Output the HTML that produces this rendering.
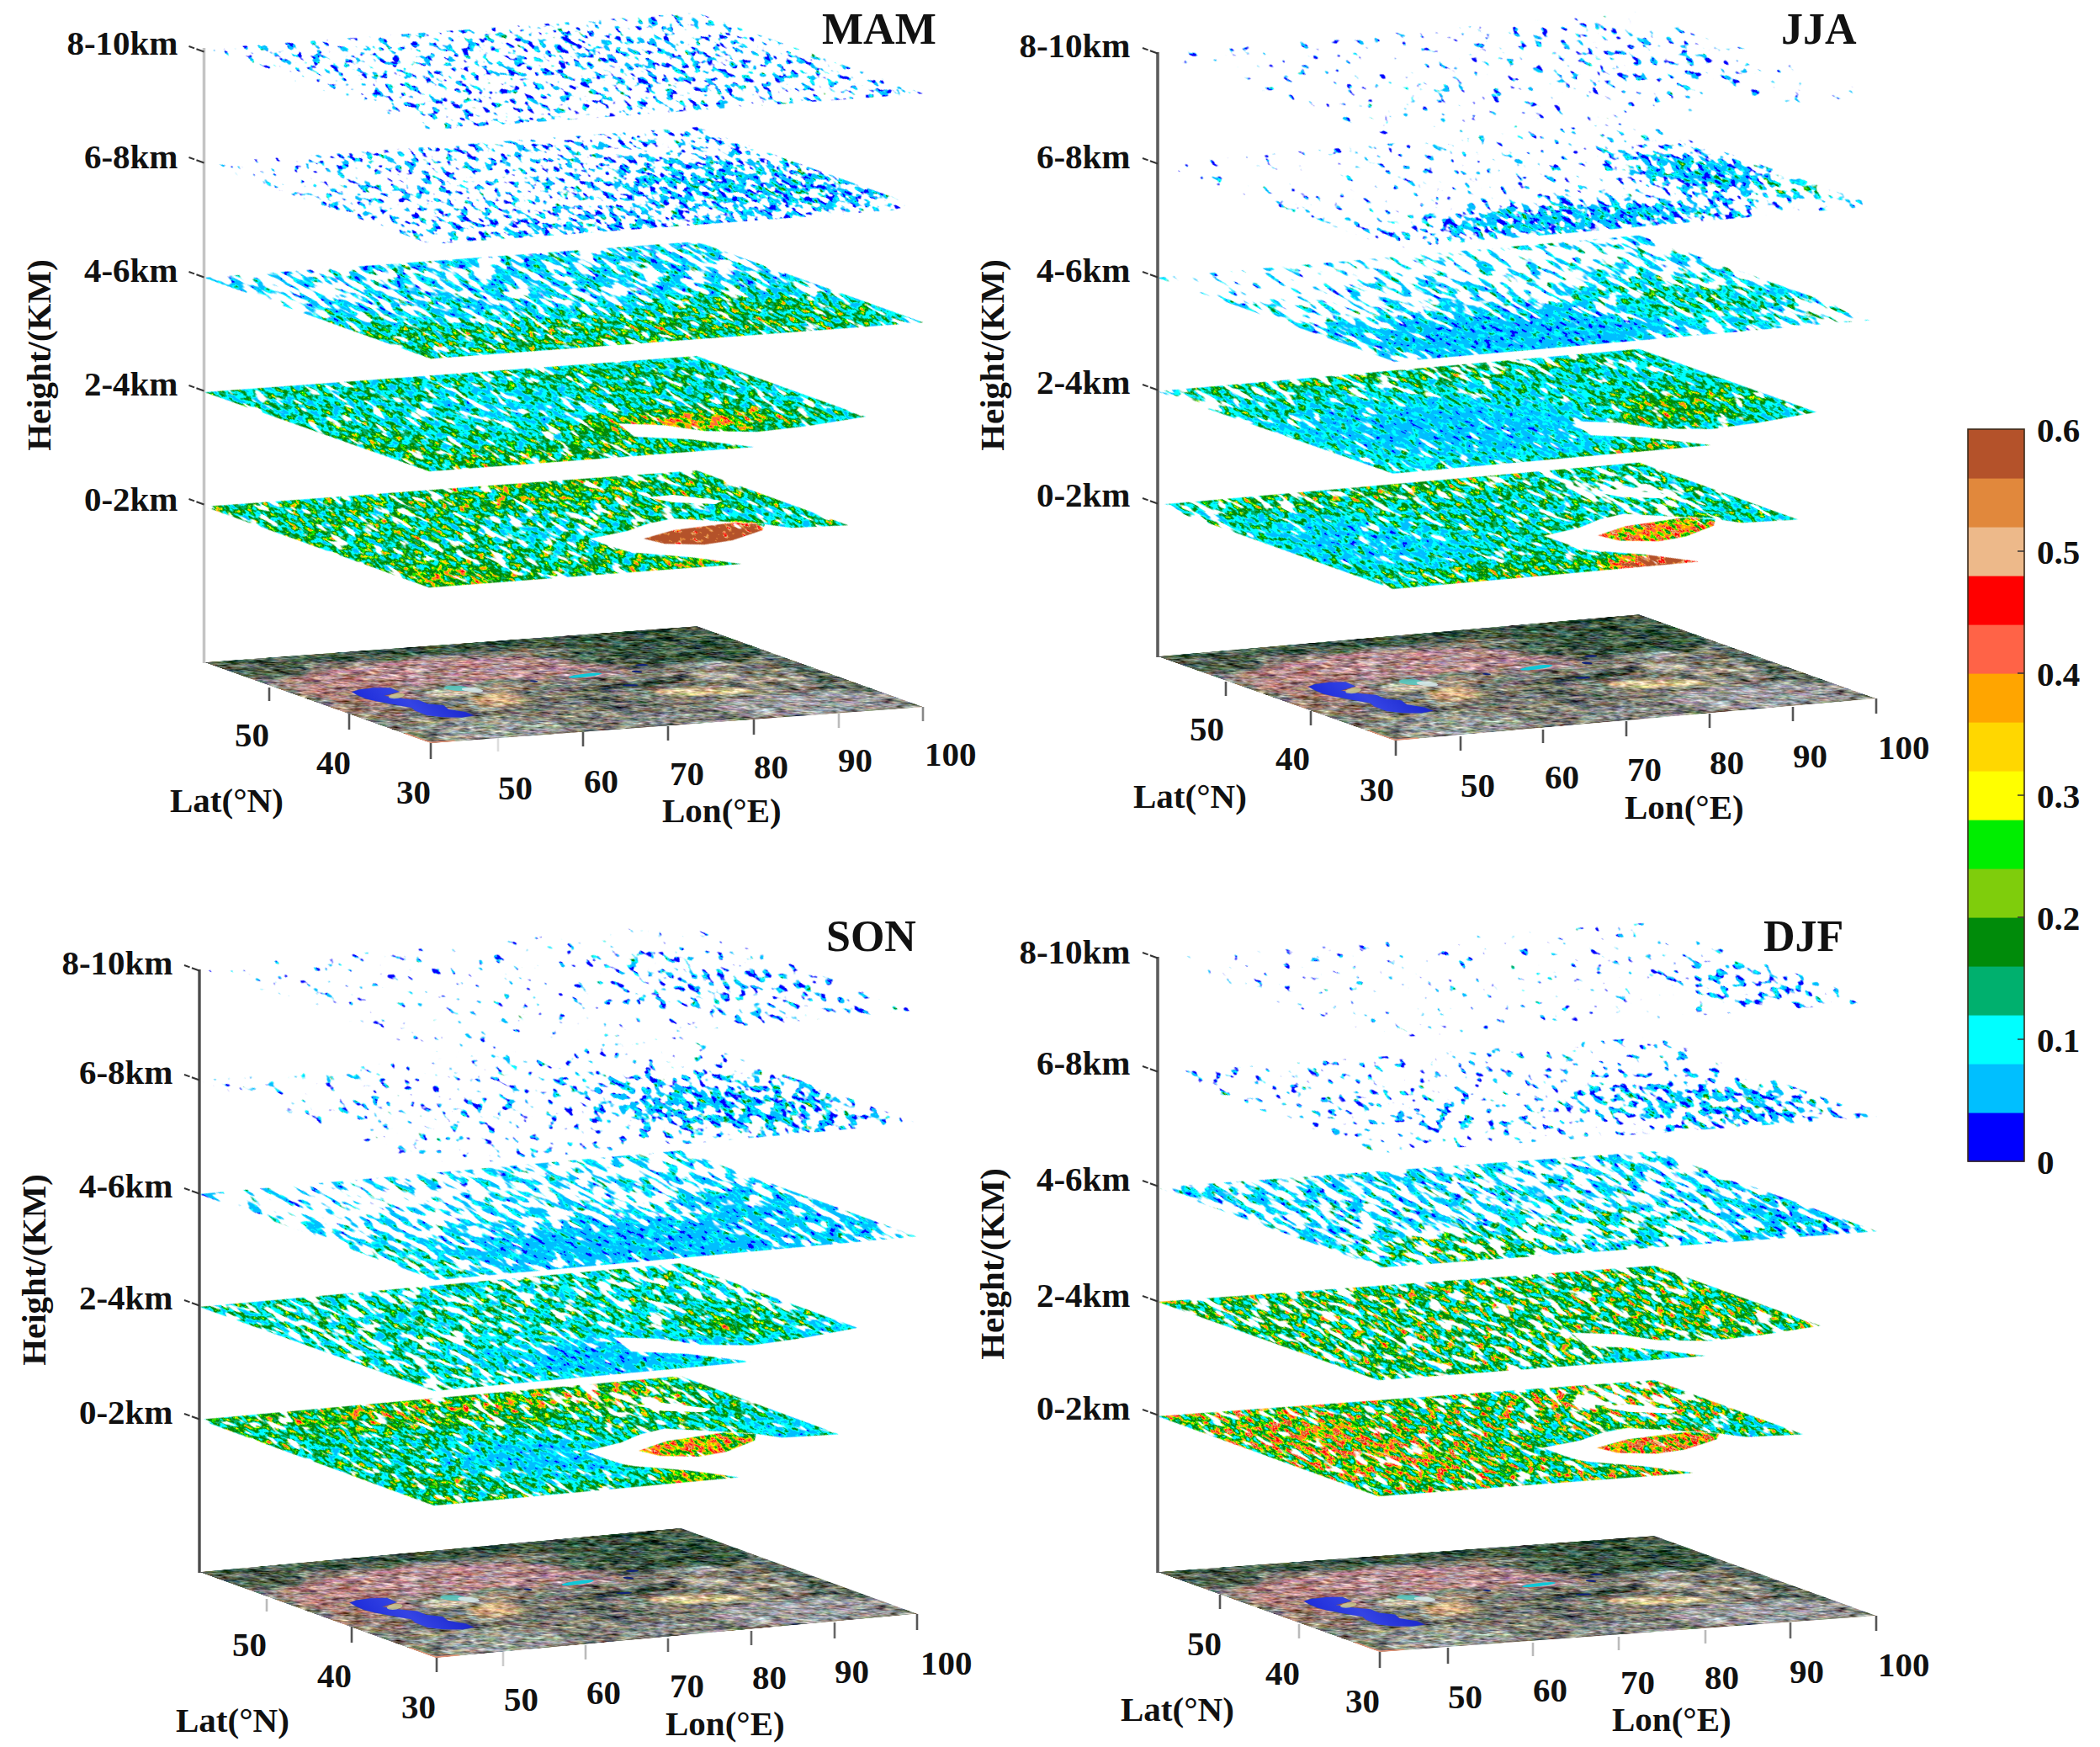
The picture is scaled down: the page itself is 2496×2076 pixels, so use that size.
<!DOCTYPE html>
<html><head><meta charset="utf-8"><title>Seasonal 3D aerosol extinction layers</title>
<style>html,body{margin:0;padding:0;background:#fff}svg{display:block}text{font-family:'Liberation Serif','DejaVu Serif',serif;font-weight:bold;fill:#111}</style></head>
<body>
<svg width="2496" height="2076" viewBox="0 0 2496 2076">
<defs>
<filter id="ff" filterUnits="userSpaceOnUse" x="-5" y="-5" width="590.0" height="290.0" color-interpolation-filters="sRGB"><feGaussianBlur in="SourceGraphic" stdDeviation="4" result="b0"/><feColorMatrix in="b0" type="matrix" values="1 0 0 0 0 0 1 0 0 0 0 0 1 0 0 0 0 0 0 1" result="S"/><feTurbulence type="fractalNoise" baseFrequency="0.13 0.2" numOctaves="3" seed="7" result="t1"/><feColorMatrix in="t1" type="matrix" values="0.46 0.32 0.22 0 0  0.27 0.46 0.27 0 0  0.22 0.32 0.46 0 0  0 0 0 0 1" result="n1"/><feComposite in="n1" in2="S" operator="arithmetic" k1="0" k2="1.3" k3="1" k4="-0.65" result="c0"/><feTurbulence type="fractalNoise" baseFrequency="0.045 0.08" numOctaves="2" seed="11" result="t2"/><feColorMatrix in="t2" type="matrix" values="0.5 0.3 0.2 0 0  0.25 0.5 0.25 0 0  0.2 0.3 0.5 0 0  0 0 0 0 1" result="n2"/><feComposite in="n2" in2="c0" operator="arithmetic" k1="0" k2="1.1" k3="1" k4="-0.55" result="c1"/><feComposite in="c1" in2="SourceAlpha" operator="in"/></filter>
<clipPath id="fclip"><rect x="0" y="0" width="580" height="280"/></clipPath>
<linearGradient id="lakeg" x1="0" y1="0" x2="1" y2="1"><stop offset="0" stop-color="#1a28d8"/><stop offset="0.5" stop-color="#3444e4"/><stop offset="1" stop-color="#1a26cc"/></linearGradient>
<g id="flr"><g filter="url(#ff)">
<rect x="0" y="0" width="580" height="280" fill="#7e7d73"/>
<g clip-path="url(#fclip)">
<ellipse cx="290" cy="-5" rx="340" ry="34" fill="rgb(62,86,68)"/>
<ellipse cx="490" cy="50" rx="100" ry="65" fill="rgb(60,88,68)"/>
<ellipse cx="380" cy="80" rx="60" ry="35" fill="rgb(70,92,72)" fill-opacity="0.8"/>
<ellipse cx="40" cy="30" rx="50" ry="35" fill="rgb(70,90,72)" fill-opacity="0.8"/>
<ellipse cx="570" cy="180" rx="30" ry="80" fill="rgb(84,100,88)" fill-opacity="0.8"/>
<ellipse cx="200" cy="75" rx="160" ry="38" fill="rgb(180,140,143)"/>
<ellipse cx="70" cy="105" rx="60" ry="50" fill="rgb(176,130,126)" fill-opacity="0.9"/>
<ellipse cx="330" cy="105" rx="70" ry="25" fill="rgb(176,136,142)" fill-opacity="0.8"/>
<ellipse cx="30" cy="170" rx="30" ry="50" fill="rgb(156,122,112)" fill-opacity="0.8"/>
<ellipse cx="183" cy="170" rx="36" ry="17" fill="rgb(212,176,132)" fill-opacity="0.92" transform="rotate(-20 183 170)"/>
<ellipse cx="150" cy="142" rx="26" ry="13" fill="rgb(205,196,178)" fill-opacity="0.85"/>
<ellipse cx="220" cy="135" rx="30" ry="11" fill="rgb(190,172,140)" fill-opacity="0.65"/>
<ellipse cx="410" cy="190" rx="54" ry="14.5" fill="rgb(216,196,150)" fill-opacity="0.95" transform="rotate(8 410 190)"/>
<ellipse cx="460" cy="145" rx="32" ry="8" fill="rgb(216,208,194)" fill-opacity="0.8" transform="rotate(5 460 145)"/>
<ellipse cx="480" cy="110" rx="40" ry="9" fill="rgb(190,190,188)" fill-opacity="0.7" transform="rotate(5 480 110)"/>
<ellipse cx="510" cy="170" rx="35" ry="13" fill="rgb(186,170,146)" fill-opacity="0.65"/>
<ellipse cx="360" cy="154" rx="80" ry="9" fill="rgb(58,74,62)" fill-opacity="0.9" transform="rotate(-6 360 154)"/>
<ellipse cx="290" cy="200" rx="40" ry="25" fill="rgb(96,104,100)" fill-opacity="0.7"/>
<ellipse cx="450" cy="90" rx="40" ry="14" fill="rgb(58,82,64)" fill-opacity="0.85"/>
<ellipse cx="480" cy="245" rx="110" ry="34" fill="rgb(160,160,164)" fill-opacity="0.85"/>
<ellipse cx="300" cy="260" rx="70" ry="22" fill="rgb(136,140,140)" fill-opacity="0.7"/>
<ellipse cx="100" cy="250" rx="90" ry="30" fill="rgb(158,164,158)" fill-opacity="0.8"/>
<ellipse cx="20" cy="220" rx="30" ry="40" fill="rgb(126,132,122)" fill-opacity="0.6"/>
</g></g>
<polygon points="59,129 63,116 76,111 95,109 112,112 110,126 94,131 84,134 92,144 106,154 105,166 116,174 110,186 119,198 118,210 100,213 82,208 72,200 73,184 78,174 68,160 61,148 58,139" fill="url(#lakeg)" stroke="#3a4a8a" stroke-width="1" stroke-opacity="0.5"/>
<ellipse cx="96" cy="137" rx="14" ry="5" fill="#c8c890" fill-opacity="0.85" transform="rotate(-25 96 137)"/>
<ellipse cx="176" cy="128" rx="13" ry="9" fill="#58c8c0" fill-opacity="0.9"/>
<ellipse cx="186" cy="136" rx="10" ry="8" fill="#d8e8e8" fill-opacity="0.9"/>
<ellipse cx="336" cy="118" rx="22" ry="4.5" fill="#10c8d8" transform="rotate(-8 336 118)"/>
<ellipse cx="353" cy="156" rx="9" ry="3" fill="#10207a"/>
<ellipse cx="397" cy="118" rx="5" ry="4" fill="#10207a"/>
<ellipse cx="420" cy="100" rx="7" ry="3" fill="#10207a"/>
<ellipse cx="270" cy="124" rx="4" ry="3" fill="#10207a"/>
<path d="M0 246V280H30V276.5H3.5V246Z" fill="#f09878" fill-opacity="0.9"/>
</g>
<filter id="f10" filterUnits="userSpaceOnUse" x="-4" y="-4" width="354.9" height="690.2" color-interpolation-filters="sRGB"><feGaussianBlur in="SourceGraphic" stdDeviation="5" result="b0"/><feColorMatrix in="b0" type="matrix" values="1 0 0 0 0 0 1 0 0 0 0 0 1 0 0 0 0 0 0 1" result="S"/><feTurbulence type="fractalNoise" baseFrequency="0.21 0.09" numOctaves="2" seed="11" result="t1"/><feColorMatrix in="t1" type="matrix" values="1 0 0 0 0 0 1 0 0 0 0 0 1 0 0 0 0 0 0 1" result="n1"/><feTurbulence type="fractalNoise" baseFrequency="0.15 0.04" numOctaves="2" seed="61" result="t2"/><feColorMatrix in="t2" type="matrix" values="1 0 0 0 0 0 1 0 0 0 0 0 1 0 0 0 0 0 0 1" result="n2"/><feComposite in="n1" in2="S" operator="arithmetic" k1="0" k2="0.9" k3="1" k4="-0.45" result="c1"/><feColorMatrix in="c1" type="matrix" values="1 0 0 0 0 1 0 0 0 0 1 0 0 0 0 0 0 0 0 1" result="v"/><feComponentTransfer in="v" result="cc"><feFuncR type="discrete" tableValues="0 0 0 0 0 0 0 0 0 0 0 0 0 0 0 0 0 0 0 0 0 0 0 0 0 0 0.498 0 0 1 1 1 1 1 1 1 1 1 1 1 0.929 0.929 0.882 0.882 0.882 0.706 0.706 0.706 0.706 0.706"/><feFuncG type="discrete" tableValues="0 0.749 0.749 0.749 0.749 0.749 0.749 0.749 0.749 0.749 0.749 0.749 1 1 1 1 1 1 0.69 0.69 0.69 0.545 0.545 0.545 0.545 0.545 0.804 0.933 0.933 1 0.843 0.647 0.647 0.647 0.388 0.388 0.388 0 0 0 0.725 0.725 0.533 0.533 0.533 0.322 0.322 0.322 0.322 0.322"/><feFuncB type="discrete" tableValues="1 1 1 1 1 1 1 1 1 1 1 1 1 1 1 1 1 1 0.431 0.431 0.431 0.039 0.039 0.039 0.039 0.039 0.047 0 0 0 0 0 0 0 0.278 0.278 0.278 0 0 0 0.541 0.541 0.235 0.235 0.235 0.165 0.165 0.165 0.165 0.165"/></feComponentTransfer><feComposite in="n2" in2="S" operator="arithmetic" k1="0" k2="1.6" k3="1" k4="-0.8" result="c2"/><feColorMatrix in="c2" type="matrix" values="0 0 0 0 0 0 0 0 0 0 0 0 0 0 0 0 9 0 0 -4" result="m"/><feComposite in="cc" in2="m" operator="in" result="cm"/><feComposite in="cm" in2="SourceAlpha" operator="in"/></filter>
<clipPath id="c10"><polygon points="0,0 317.8,493 346.9,682.2 311.7,623.9 299.4,590.8 284.4,559.1 254.4,495.7 234.7,472.3 214.9,454.6 185.4,419.4 190,448.8 193.8,466.1 198.3,478.5 223.5,535.3 245.7,592.7 43.5,280.4"/></clipPath>
<radialGradient id="g100"><stop offset="0.35" stop-color="#8acc00" stop-opacity="1"/><stop offset="1" stop-color="#8acc00" stop-opacity="0"/></radialGradient>
<radialGradient id="g101"><stop offset="0.35" stop-color="#78bf00" stop-opacity="1"/><stop offset="1" stop-color="#78bf00" stop-opacity="0"/></radialGradient>
<radialGradient id="g102"><stop offset="0.35" stop-color="#4c9900" stop-opacity="1"/><stop offset="1" stop-color="#4c9900" stop-opacity="0"/></radialGradient>
<radialGradient id="g103"><stop offset="0.35" stop-color="#85e600" stop-opacity="1"/><stop offset="1" stop-color="#85e600" stop-opacity="0"/></radialGradient>
<radialGradient id="g104"><stop offset="0.35" stop-color="#4cbf00" stop-opacity="1"/><stop offset="1" stop-color="#4cbf00" stop-opacity="0"/></radialGradient>
<radialGradient id="g105"><stop offset="0.35" stop-color="#9ee600" stop-opacity="1"/><stop offset="1" stop-color="#9ee600" stop-opacity="0"/></radialGradient>
<filter id="f11" filterUnits="userSpaceOnUse" x="-4" y="-4" width="358.8" height="712" color-interpolation-filters="sRGB"><feGaussianBlur in="SourceGraphic" stdDeviation="5" result="b0"/><feColorMatrix in="b0" type="matrix" values="1 0 0 0 0 0 1 0 0 0 0 0 1 0 0 0 0 0 0 1" result="S"/><feTurbulence type="fractalNoise" baseFrequency="0.21 0.09" numOctaves="2" seed="12" result="t1"/><feColorMatrix in="t1" type="matrix" values="1 0 0 0 0 0 1 0 0 0 0 0 1 0 0 0 0 0 0 1" result="n1"/><feTurbulence type="fractalNoise" baseFrequency="0.15 0.04" numOctaves="2" seed="62" result="t2"/><feColorMatrix in="t2" type="matrix" values="1 0 0 0 0 0 1 0 0 0 0 0 1 0 0 0 0 0 0 1" result="n2"/><feComposite in="n1" in2="S" operator="arithmetic" k1="0" k2="0.85" k3="1" k4="-0.425" result="c1"/><feColorMatrix in="c1" type="matrix" values="1 0 0 0 0 1 0 0 0 0 1 0 0 0 0 0 0 0 0 1" result="v"/><feComponentTransfer in="v" result="cc"><feFuncR type="discrete" tableValues="0 0 0 0 0 0 0 0 0 0 0 0 0 0 0 0 0 0 0 0 0 0 0 0 0 0 0.498 0 0 1 1 1 1 1 1 1 1 1 1 1 0.929 0.929 0.882 0.882 0.882 0.706 0.706 0.706 0.706 0.706"/><feFuncG type="discrete" tableValues="0 0.749 0.749 0.749 0.749 0.749 0.749 0.749 0.749 0.749 0.749 0.749 1 1 1 1 1 1 0.69 0.69 0.69 0.545 0.545 0.545 0.545 0.545 0.804 0.933 0.933 1 0.843 0.647 0.647 0.647 0.388 0.388 0.388 0 0 0 0.725 0.725 0.533 0.533 0.533 0.322 0.322 0.322 0.322 0.322"/><feFuncB type="discrete" tableValues="1 1 1 1 1 1 1 1 1 1 1 1 1 1 1 1 1 1 0.431 0.431 0.431 0.039 0.039 0.039 0.039 0.039 0.047 0 0 0 0 0 0 0 0.278 0.278 0.278 0 0 0 0.541 0.541 0.235 0.235 0.235 0.165 0.165 0.165 0.165 0.165"/></feComponentTransfer><feComposite in="n2" in2="S" operator="arithmetic" k1="0" k2="1.6" k3="1" k4="-0.8" result="c2"/><feColorMatrix in="c2" type="matrix" values="0 0 0 0 0 0 0 0 0 0 0 0 0 0 0 0 9 0 0 -4" result="m"/><feComposite in="cc" in2="m" operator="in" result="cm"/><feComposite in="cm" in2="SourceAlpha" operator="in"/></filter>
<clipPath id="c11"><polygon points="0,0 317.8,493 350.8,704 308.1,648.6 273.3,599.3 244,543.5 227.6,498.9 202.6,448.8 198.1,474 227.1,533.4 255.5,604.4 45.3,279.4"/></clipPath>
<radialGradient id="g110"><stop offset="0.35" stop-color="#47a800" stop-opacity="1"/><stop offset="1" stop-color="#47a800" stop-opacity="0"/></radialGradient>
<radialGradient id="g111"><stop offset="0.35" stop-color="#75cc00" stop-opacity="1"/><stop offset="1" stop-color="#75cc00" stop-opacity="0"/></radialGradient>
<radialGradient id="g112"><stop offset="0.35" stop-color="#6ec700" stop-opacity="1"/><stop offset="1" stop-color="#6ec700" stop-opacity="0"/></radialGradient>
<radialGradient id="g113"><stop offset="0.35" stop-color="#66c700" stop-opacity="1"/><stop offset="1" stop-color="#66c700" stop-opacity="0"/></radialGradient>
<radialGradient id="g114"><stop offset="0.35" stop-color="#9cf200" stop-opacity="1"/><stop offset="1" stop-color="#9cf200" stop-opacity="0"/></radialGradient>
<filter id="f12" filterUnits="userSpaceOnUse" x="-4" y="-4" width="370.3" height="783.2" color-interpolation-filters="sRGB"><feGaussianBlur in="SourceGraphic" stdDeviation="5" result="b0"/><feColorMatrix in="b0" type="matrix" values="1 0 0 0 0 0 1 0 0 0 0 0 1 0 0 0 0 0 0 1" result="S"/><feTurbulence type="fractalNoise" baseFrequency="0.21 0.09" numOctaves="2" seed="13" result="t1"/><feColorMatrix in="t1" type="matrix" values="1 0 0 0 0 0 1 0 0 0 0 0 1 0 0 0 0 0 0 1" result="n1"/><feTurbulence type="fractalNoise" baseFrequency="0.15 0.04" numOctaves="2" seed="63" result="t2"/><feColorMatrix in="t2" type="matrix" values="1 0 0 0 0 0 1 0 0 0 0 0 1 0 0 0 0 0 0 1" result="n2"/><feComposite in="n1" in2="S" operator="arithmetic" k1="0" k2="1.0" k3="1" k4="-0.5" result="c1"/><feColorMatrix in="c1" type="matrix" values="1 0 0 0 0 1 0 0 0 0 1 0 0 0 0 0 0 0 0 1" result="v"/><feComponentTransfer in="v" result="cc"><feFuncR type="discrete" tableValues="0 0 0 0 0 0 0 0 0 0 0 0 0 0 0 0 0 0 0 0 0 0 0 0 0 0 0.498 0 0 1 1 1 1 1 1 1 1 1 1 1 0.929 0.929 0.882 0.882 0.882 0.706 0.706 0.706 0.706 0.706"/><feFuncG type="discrete" tableValues="0 0.749 0.749 0.749 0.749 0.749 0.749 0.749 0.749 0.749 0.749 0.749 1 1 1 1 1 1 0.69 0.69 0.69 0.545 0.545 0.545 0.545 0.545 0.804 0.933 0.933 1 0.843 0.647 0.647 0.647 0.388 0.388 0.388 0 0 0 0.725 0.725 0.533 0.533 0.533 0.322 0.322 0.322 0.322 0.322"/><feFuncB type="discrete" tableValues="1 1 1 1 1 1 1 1 1 1 1 1 1 1 1 1 1 1 0.431 0.431 0.431 0.039 0.039 0.039 0.039 0.039 0.047 0 0 0 0 0 0 0 0.278 0.278 0.278 0 0 0 0.541 0.541 0.235 0.235 0.235 0.165 0.165 0.165 0.165 0.165"/></feComponentTransfer><feComposite in="n2" in2="S" operator="arithmetic" k1="0" k2="1.6" k3="1" k4="-0.8" result="c2"/><feColorMatrix in="c2" type="matrix" values="0 0 0 0 0 0 0 0 0 0 0 0 0 0 0 0 9 0 0 -4" result="m"/><feComposite in="cc" in2="m" operator="in" result="cm"/><feComposite in="cm" in2="SourceAlpha" operator="in"/></filter>
<clipPath id="c12"><polygon points="0,0 317.8,493 362.3,775.2 44.5,282.1"/></clipPath>
<radialGradient id="g120"><stop offset="0.35" stop-color="#306100" stop-opacity="1"/><stop offset="1" stop-color="#306100" stop-opacity="0"/></radialGradient>
<radialGradient id="g121"><stop offset="0.35" stop-color="#6bcc00" stop-opacity="1"/><stop offset="1" stop-color="#6bcc00" stop-opacity="0"/></radialGradient>
<radialGradient id="g122"><stop offset="0.35" stop-color="#66c700" stop-opacity="1"/><stop offset="1" stop-color="#66c700" stop-opacity="0"/></radialGradient>
<radialGradient id="g123"><stop offset="0.35" stop-color="#6bc700" stop-opacity="1"/><stop offset="1" stop-color="#6bc700" stop-opacity="0"/></radialGradient>
<filter id="f13" filterUnits="userSpaceOnUse" x="-4" y="-4" width="370.3" height="783.2" color-interpolation-filters="sRGB"><feGaussianBlur in="SourceGraphic" stdDeviation="5" result="b0"/><feColorMatrix in="b0" type="matrix" values="1 0 0 0 0 0 1 0 0 0 0 0 1 0 0 0 0 0 0 1" result="S"/><feTurbulence type="fractalNoise" baseFrequency="0.21 0.09" numOctaves="2" seed="14" result="t1"/><feColorMatrix in="t1" type="matrix" values="1 0 0 0 0 0 1 0 0 0 0 0 1 0 0 0 0 0 0 1" result="n1"/><feTurbulence type="fractalNoise" baseFrequency="0.16 0.085" numOctaves="2" seed="64" result="t2"/><feColorMatrix in="t2" type="matrix" values="1 0 0 0 0 0 1 0 0 0 0 0 1 0 0 0 0 0 0 1" result="n2"/><feComposite in="n1" in2="S" operator="arithmetic" k1="0" k2="1.2" k3="1" k4="-0.6" result="c1"/><feColorMatrix in="c1" type="matrix" values="1 0 0 0 0 1 0 0 0 0 1 0 0 0 0 0 0 0 0 1" result="v"/><feComponentTransfer in="v" result="cc"><feFuncR type="discrete" tableValues="0 0 0 0 0 0 0 0 0 0 0 0 0 0 0 0 0 0 0 0 0 0 0 0 0 0 0.498 0 0 1 1 1 1 1 1 1 1 1 1 1 0.929 0.929 0.882 0.882 0.882 0.706 0.706 0.706 0.706 0.706"/><feFuncG type="discrete" tableValues="0 0.749 0.749 0.749 0.749 0.749 0.749 0.749 0.749 0.749 0.749 0.749 1 1 1 1 1 1 0.69 0.69 0.69 0.545 0.545 0.545 0.545 0.545 0.804 0.933 0.933 1 0.843 0.647 0.647 0.647 0.388 0.388 0.388 0 0 0 0.725 0.725 0.533 0.533 0.533 0.322 0.322 0.322 0.322 0.322"/><feFuncB type="discrete" tableValues="1 1 1 1 1 1 1 1 1 1 1 1 1 1 1 1 1 1 0.431 0.431 0.431 0.039 0.039 0.039 0.039 0.039 0.047 0 0 0 0 0 0 0 0.278 0.278 0.278 0 0 0 0.541 0.541 0.235 0.235 0.235 0.165 0.165 0.165 0.165 0.165"/></feComponentTransfer><feComposite in="n2" in2="S" operator="arithmetic" k1="0" k2="1.6" k3="1" k4="-0.8" result="c2"/><feColorMatrix in="c2" type="matrix" values="0 0 0 0 0 0 0 0 0 0 0 0 0 0 0 0 9 0 0 -4" result="m"/><feComposite in="cc" in2="m" operator="in" result="cm"/><feComposite in="cm" in2="SourceAlpha" operator="in"/></filter>
<clipPath id="c13"><polygon points="0,0 317.8,493 362.3,775.2 44.5,282.1"/></clipPath>
<radialGradient id="g130"><stop offset="0.35" stop-color="#122600" stop-opacity="1"/><stop offset="1" stop-color="#122600" stop-opacity="0"/></radialGradient>
<radialGradient id="g131"><stop offset="0.35" stop-color="#299900" stop-opacity="1"/><stop offset="1" stop-color="#299900" stop-opacity="0"/></radialGradient>
<radialGradient id="g132"><stop offset="0.35" stop-color="#1f7a00" stop-opacity="1"/><stop offset="1" stop-color="#1f7a00" stop-opacity="0"/></radialGradient>
<filter id="f14" filterUnits="userSpaceOnUse" x="-4" y="-4" width="370.3" height="783.2" color-interpolation-filters="sRGB"><feGaussianBlur in="SourceGraphic" stdDeviation="5" result="b0"/><feColorMatrix in="b0" type="matrix" values="1 0 0 0 0 0 1 0 0 0 0 0 1 0 0 0 0 0 0 1" result="S"/><feTurbulence type="fractalNoise" baseFrequency="0.21 0.09" numOctaves="2" seed="15" result="t1"/><feColorMatrix in="t1" type="matrix" values="1 0 0 0 0 0 1 0 0 0 0 0 1 0 0 0 0 0 0 1" result="n1"/><feTurbulence type="fractalNoise" baseFrequency="0.16 0.085" numOctaves="2" seed="65" result="t2"/><feColorMatrix in="t2" type="matrix" values="1 0 0 0 0 0 1 0 0 0 0 0 1 0 0 0 0 0 0 1" result="n2"/><feComposite in="n1" in2="S" operator="arithmetic" k1="0" k2="1.2" k3="1" k4="-0.6" result="c1"/><feColorMatrix in="c1" type="matrix" values="1 0 0 0 0 1 0 0 0 0 1 0 0 0 0 0 0 0 0 1" result="v"/><feComponentTransfer in="v" result="cc"><feFuncR type="discrete" tableValues="0 0 0 0 0 0 0 0 0 0 0 0 0 0 0 0 0 0 0 0 0 0 0 0 0 0 0.498 0 0 1 1 1 1 1 1 1 1 1 1 1 0.929 0.929 0.882 0.882 0.882 0.706 0.706 0.706 0.706 0.706"/><feFuncG type="discrete" tableValues="0 0.749 0.749 0.749 0.749 0.749 0.749 0.749 0.749 0.749 0.749 0.749 1 1 1 1 1 1 0.69 0.69 0.69 0.545 0.545 0.545 0.545 0.545 0.804 0.933 0.933 1 0.843 0.647 0.647 0.647 0.388 0.388 0.388 0 0 0 0.725 0.725 0.533 0.533 0.533 0.322 0.322 0.322 0.322 0.322"/><feFuncB type="discrete" tableValues="1 1 1 1 1 1 1 1 1 1 1 1 1 1 1 1 1 1 0.431 0.431 0.431 0.039 0.039 0.039 0.039 0.039 0.047 0 0 0 0 0 0 0 0.278 0.278 0.278 0 0 0 0.541 0.541 0.235 0.235 0.235 0.165 0.165 0.165 0.165 0.165"/></feComponentTransfer><feComposite in="n2" in2="S" operator="arithmetic" k1="0" k2="1.6" k3="1" k4="-0.8" result="c2"/><feColorMatrix in="c2" type="matrix" values="0 0 0 0 0 0 0 0 0 0 0 0 0 0 0 0 9 0 0 -4" result="m"/><feComposite in="cc" in2="m" operator="in" result="cm"/><feComposite in="cm" in2="SourceAlpha" operator="in"/></filter>
<clipPath id="c14"><polygon points="0,0 317.8,493 362.3,775.2 44.5,282.1"/></clipPath>
<radialGradient id="g140"><stop offset="0.35" stop-color="#140d00" stop-opacity="1"/><stop offset="1" stop-color="#140d00" stop-opacity="0"/></radialGradient>
<radialGradient id="g141"><stop offset="0.35" stop-color="#1c6600" stop-opacity="1"/><stop offset="1" stop-color="#1c6600" stop-opacity="0"/></radialGradient>
<filter id="f20" filterUnits="userSpaceOnUse" x="-4" y="-4" width="348.6" height="688.6" color-interpolation-filters="sRGB"><feGaussianBlur in="SourceGraphic" stdDeviation="5" result="b0"/><feColorMatrix in="b0" type="matrix" values="1 0 0 0 0 0 1 0 0 0 0 0 1 0 0 0 0 0 0 1" result="S"/><feTurbulence type="fractalNoise" baseFrequency="0.21 0.09" numOctaves="2" seed="21" result="t1"/><feColorMatrix in="t1" type="matrix" values="1 0 0 0 0 0 1 0 0 0 0 0 1 0 0 0 0 0 0 1" result="n1"/><feTurbulence type="fractalNoise" baseFrequency="0.15 0.04" numOctaves="2" seed="71" result="t2"/><feColorMatrix in="t2" type="matrix" values="1 0 0 0 0 0 1 0 0 0 0 0 1 0 0 0 0 0 0 1" result="n2"/><feComposite in="n1" in2="S" operator="arithmetic" k1="0" k2="0.9" k3="1" k4="-0.45" result="c1"/><feColorMatrix in="c1" type="matrix" values="1 0 0 0 0 1 0 0 0 0 1 0 0 0 0 0 0 0 0 1" result="v"/><feComponentTransfer in="v" result="cc"><feFuncR type="discrete" tableValues="0 0 0 0 0 0 0 0 0 0 0 0 0 0 0 0 0 0 0 0 0 0 0 0 0 0 0.498 0 0 1 1 1 1 1 1 1 1 1 1 1 0.929 0.929 0.882 0.882 0.882 0.706 0.706 0.706 0.706 0.706"/><feFuncG type="discrete" tableValues="0 0.749 0.749 0.749 0.749 0.749 0.749 0.749 0.749 0.749 0.749 0.749 1 1 1 1 1 1 0.69 0.69 0.69 0.545 0.545 0.545 0.545 0.545 0.804 0.933 0.933 1 0.843 0.647 0.647 0.647 0.388 0.388 0.388 0 0 0 0.725 0.725 0.533 0.533 0.533 0.322 0.322 0.322 0.322 0.322"/><feFuncB type="discrete" tableValues="1 1 1 1 1 1 1 1 1 1 1 1 1 1 1 1 1 1 0.431 0.431 0.431 0.039 0.039 0.039 0.039 0.039 0.047 0 0 0 0 0 0 0 0.278 0.278 0.278 0 0 0 0.541 0.541 0.235 0.235 0.235 0.165 0.165 0.165 0.165 0.165"/></feComponentTransfer><feComposite in="n2" in2="S" operator="arithmetic" k1="0" k2="1.6" k3="1" k4="-0.8" result="c2"/><feColorMatrix in="c2" type="matrix" values="0 0 0 0 0 0 0 0 0 0 0 0 0 0 0 0 9 0 0 -4" result="m"/><feComposite in="cc" in2="m" operator="in" result="cm"/><feComposite in="cm" in2="SourceAlpha" operator="in"/></filter>
<clipPath id="c20"><polygon points="0,0 312,482 340.6,680.6 306,623.3 293.9,589.6 279.2,557.8 249.7,494.2 230.4,471.9 210.9,455.9 182,422.5 186.6,453.3 190.3,471.4 194.6,484 219.5,541.2 241.2,599.5 42.7,294.3"/></clipPath>
<radialGradient id="g200"><stop offset="0.35" stop-color="#75a800" stop-opacity="1"/><stop offset="1" stop-color="#75a800" stop-opacity="0"/></radialGradient>
<radialGradient id="g201"><stop offset="0.35" stop-color="#38d100" stop-opacity="1"/><stop offset="1" stop-color="#38d100" stop-opacity="0"/></radialGradient>
<radialGradient id="g202"><stop offset="0.35" stop-color="#73d100" stop-opacity="1"/><stop offset="1" stop-color="#73d100" stop-opacity="0"/></radialGradient>
<radialGradient id="g203"><stop offset="0.35" stop-color="#fff200" stop-opacity="1"/><stop offset="1" stop-color="#fff200" stop-opacity="0"/></radialGradient>
<radialGradient id="g204"><stop offset="0.35" stop-color="#616600" stop-opacity="1"/><stop offset="1" stop-color="#616600" stop-opacity="0"/></radialGradient>
<radialGradient id="g205"><stop offset="0.35" stop-color="#527300" stop-opacity="1"/><stop offset="1" stop-color="#527300" stop-opacity="0"/></radialGradient>
<filter id="f21" filterUnits="userSpaceOnUse" x="-4" y="-4" width="352.4" height="711.4" color-interpolation-filters="sRGB"><feGaussianBlur in="SourceGraphic" stdDeviation="5" result="b0"/><feColorMatrix in="b0" type="matrix" values="1 0 0 0 0 0 1 0 0 0 0 0 1 0 0 0 0 0 0 1" result="S"/><feTurbulence type="fractalNoise" baseFrequency="0.21 0.09" numOctaves="2" seed="22" result="t1"/><feColorMatrix in="t1" type="matrix" values="1 0 0 0 0 0 1 0 0 0 0 0 1 0 0 0 0 0 0 1" result="n1"/><feTurbulence type="fractalNoise" baseFrequency="0.15 0.04" numOctaves="2" seed="72" result="t2"/><feColorMatrix in="t2" type="matrix" values="1 0 0 0 0 0 1 0 0 0 0 0 1 0 0 0 0 0 0 1" result="n2"/><feComposite in="n1" in2="S" operator="arithmetic" k1="0" k2="0.85" k3="1" k4="-0.425" result="c1"/><feColorMatrix in="c1" type="matrix" values="1 0 0 0 0 1 0 0 0 0 1 0 0 0 0 0 0 0 0 1" result="v"/><feComponentTransfer in="v" result="cc"><feFuncR type="discrete" tableValues="0 0 0 0 0 0 0 0 0 0 0 0 0 0 0 0 0 0 0 0 0 0 0 0 0 0 0.498 0 0 1 1 1 1 1 1 1 1 1 1 1 0.929 0.929 0.882 0.882 0.882 0.706 0.706 0.706 0.706 0.706"/><feFuncG type="discrete" tableValues="0 0.749 0.749 0.749 0.749 0.749 0.749 0.749 0.749 0.749 0.749 0.749 1 1 1 1 1 1 0.69 0.69 0.69 0.545 0.545 0.545 0.545 0.545 0.804 0.933 0.933 1 0.843 0.647 0.647 0.647 0.388 0.388 0.388 0 0 0 0.725 0.725 0.533 0.533 0.533 0.322 0.322 0.322 0.322 0.322"/><feFuncB type="discrete" tableValues="1 1 1 1 1 1 1 1 1 1 1 1 1 1 1 1 1 1 0.431 0.431 0.431 0.039 0.039 0.039 0.039 0.039 0.047 0 0 0 0 0 0 0 0.278 0.278 0.278 0 0 0 0.541 0.541 0.235 0.235 0.235 0.165 0.165 0.165 0.165 0.165"/></feComponentTransfer><feComposite in="n2" in2="S" operator="arithmetic" k1="0" k2="1.6" k3="1" k4="-0.8" result="c2"/><feColorMatrix in="c2" type="matrix" values="0 0 0 0 0 0 0 0 0 0 0 0 0 0 0 0 9 0 0 -4" result="m"/><feComposite in="cc" in2="m" operator="in" result="cm"/><feComposite in="cm" in2="SourceAlpha" operator="in"/></filter>
<clipPath id="c21"><polygon points="0,0 312,482 344.4,703.4 302.5,650.3 268.3,602.5 239.5,547 223.5,501.6 198.9,451.5 194.5,479.2 222.9,538.6 250.9,610.6 44.5,293"/></clipPath>
<radialGradient id="g210"><stop offset="0.35" stop-color="#30e000" stop-opacity="1"/><stop offset="1" stop-color="#30e000" stop-opacity="0"/></radialGradient>
<radialGradient id="g211"><stop offset="0.35" stop-color="#6b9900" stop-opacity="1"/><stop offset="1" stop-color="#6b9900" stop-opacity="0"/></radialGradient>
<radialGradient id="g212"><stop offset="0.35" stop-color="#75d100" stop-opacity="1"/><stop offset="1" stop-color="#75d100" stop-opacity="0"/></radialGradient>
<radialGradient id="g213"><stop offset="0.35" stop-color="#85e600" stop-opacity="1"/><stop offset="1" stop-color="#85e600" stop-opacity="0"/></radialGradient>
<radialGradient id="g214"><stop offset="0.35" stop-color="#7ae600" stop-opacity="1"/><stop offset="1" stop-color="#7ae600" stop-opacity="0"/></radialGradient>
<radialGradient id="g215"><stop offset="0.35" stop-color="#527300" stop-opacity="1"/><stop offset="1" stop-color="#527300" stop-opacity="0"/></radialGradient>
<filter id="f22" filterUnits="userSpaceOnUse" x="-4" y="-4" width="363.7" height="786" color-interpolation-filters="sRGB"><feGaussianBlur in="SourceGraphic" stdDeviation="5" result="b0"/><feColorMatrix in="b0" type="matrix" values="1 0 0 0 0 0 1 0 0 0 0 0 1 0 0 0 0 0 0 1" result="S"/><feTurbulence type="fractalNoise" baseFrequency="0.21 0.09" numOctaves="2" seed="23" result="t1"/><feColorMatrix in="t1" type="matrix" values="1 0 0 0 0 0 1 0 0 0 0 0 1 0 0 0 0 0 0 1" result="n1"/><feTurbulence type="fractalNoise" baseFrequency="0.15 0.04" numOctaves="2" seed="73" result="t2"/><feColorMatrix in="t2" type="matrix" values="1 0 0 0 0 0 1 0 0 0 0 0 1 0 0 0 0 0 0 1" result="n2"/><feComposite in="n1" in2="S" operator="arithmetic" k1="0" k2="0.85" k3="1" k4="-0.425" result="c1"/><feColorMatrix in="c1" type="matrix" values="1 0 0 0 0 1 0 0 0 0 1 0 0 0 0 0 0 0 0 1" result="v"/><feComponentTransfer in="v" result="cc"><feFuncR type="discrete" tableValues="0 0 0 0 0 0 0 0 0 0 0 0 0 0 0 0 0 0 0 0 0 0 0 0 0 0 0.498 0 0 1 1 1 1 1 1 1 1 1 1 1 0.929 0.929 0.882 0.882 0.882 0.706 0.706 0.706 0.706 0.706"/><feFuncG type="discrete" tableValues="0 0.749 0.749 0.749 0.749 0.749 0.749 0.749 0.749 0.749 0.749 0.749 1 1 1 1 1 1 0.69 0.69 0.69 0.545 0.545 0.545 0.545 0.545 0.804 0.933 0.933 1 0.843 0.647 0.647 0.647 0.388 0.388 0.388 0 0 0 0.725 0.725 0.533 0.533 0.533 0.322 0.322 0.322 0.322 0.322"/><feFuncB type="discrete" tableValues="1 1 1 1 1 1 1 1 1 1 1 1 1 1 1 1 1 1 0.431 0.431 0.431 0.039 0.039 0.039 0.039 0.039 0.047 0 0 0 0 0 0 0 0.278 0.278 0.278 0 0 0 0.541 0.541 0.235 0.235 0.235 0.165 0.165 0.165 0.165 0.165"/></feComponentTransfer><feComposite in="n2" in2="S" operator="arithmetic" k1="0" k2="1.6" k3="1" k4="-0.8" result="c2"/><feColorMatrix in="c2" type="matrix" values="0 0 0 0 0 0 0 0 0 0 0 0 0 0 0 0 9 0 0 -4" result="m"/><feComposite in="cc" in2="m" operator="in" result="cm"/><feComposite in="cm" in2="SourceAlpha" operator="in"/></filter>
<clipPath id="c22"><polygon points="0,0 312,482 355.7,778 43.7,296"/></clipPath>
<radialGradient id="g220"><stop offset="0.35" stop-color="#2b3800" stop-opacity="1"/><stop offset="1" stop-color="#2b3800" stop-opacity="0"/></radialGradient>
<radialGradient id="g221"><stop offset="0.35" stop-color="#2beb00" stop-opacity="1"/><stop offset="1" stop-color="#2beb00" stop-opacity="0"/></radialGradient>
<radialGradient id="g222"><stop offset="0.35" stop-color="#59b200" stop-opacity="1"/><stop offset="1" stop-color="#59b200" stop-opacity="0"/></radialGradient>
<radialGradient id="g223"><stop offset="0.35" stop-color="#384c00" stop-opacity="1"/><stop offset="1" stop-color="#384c00" stop-opacity="0"/></radialGradient>
<radialGradient id="g224"><stop offset="0.35" stop-color="#525900" stop-opacity="1"/><stop offset="1" stop-color="#525900" stop-opacity="0"/></radialGradient>
<filter id="f23" filterUnits="userSpaceOnUse" x="-4" y="-4" width="363.7" height="786" color-interpolation-filters="sRGB"><feGaussianBlur in="SourceGraphic" stdDeviation="5" result="b0"/><feColorMatrix in="b0" type="matrix" values="1 0 0 0 0 0 1 0 0 0 0 0 1 0 0 0 0 0 0 1" result="S"/><feTurbulence type="fractalNoise" baseFrequency="0.21 0.09" numOctaves="2" seed="24" result="t1"/><feColorMatrix in="t1" type="matrix" values="1 0 0 0 0 0 1 0 0 0 0 0 1 0 0 0 0 0 0 1" result="n1"/><feTurbulence type="fractalNoise" baseFrequency="0.135 0.075" numOctaves="2" seed="74" result="t2"/><feColorMatrix in="t2" type="matrix" values="1 0 0 0 0 0 1 0 0 0 0 0 1 0 0 0 0 0 0 1" result="n2"/><feComposite in="n1" in2="S" operator="arithmetic" k1="0" k2="1.1" k3="1" k4="-0.55" result="c1"/><feColorMatrix in="c1" type="matrix" values="1 0 0 0 0 1 0 0 0 0 1 0 0 0 0 0 0 0 0 1" result="v"/><feComponentTransfer in="v" result="cc"><feFuncR type="discrete" tableValues="0 0 0 0 0 0 0 0 0 0 0 0 0 0 0 0 0 0 0 0 0 0 0 0 0 0 0.498 0 0 1 1 1 1 1 1 1 1 1 1 1 0.929 0.929 0.882 0.882 0.882 0.706 0.706 0.706 0.706 0.706"/><feFuncG type="discrete" tableValues="0 0.749 0.749 0.749 0.749 0.749 0.749 0.749 0.749 0.749 0.749 0.749 1 1 1 1 1 1 0.69 0.69 0.69 0.545 0.545 0.545 0.545 0.545 0.804 0.933 0.933 1 0.843 0.647 0.647 0.647 0.388 0.388 0.388 0 0 0 0.725 0.725 0.533 0.533 0.533 0.322 0.322 0.322 0.322 0.322"/><feFuncB type="discrete" tableValues="1 1 1 1 1 1 1 1 1 1 1 1 1 1 1 1 1 1 0.431 0.431 0.431 0.039 0.039 0.039 0.039 0.039 0.047 0 0 0 0 0 0 0 0.278 0.278 0.278 0 0 0 0.541 0.541 0.235 0.235 0.235 0.165 0.165 0.165 0.165 0.165"/></feComponentTransfer><feComposite in="n2" in2="S" operator="arithmetic" k1="0" k2="1.6" k3="1" k4="-0.8" result="c2"/><feColorMatrix in="c2" type="matrix" values="0 0 0 0 0 0 0 0 0 0 0 0 0 0 0 0 9 0 0 -4" result="m"/><feComposite in="cc" in2="m" operator="in" result="cm"/><feComposite in="cm" in2="SourceAlpha" operator="in"/></filter>
<clipPath id="c23"><polygon points="0,0 312,482 355.7,778 43.7,296"/></clipPath>
<radialGradient id="g230"><stop offset="0.35" stop-color="#2bb200" stop-opacity="1"/><stop offset="1" stop-color="#2bb200" stop-opacity="0"/></radialGradient>
<radialGradient id="g231"><stop offset="0.35" stop-color="#2ead00" stop-opacity="1"/><stop offset="1" stop-color="#2ead00" stop-opacity="0"/></radialGradient>
<radialGradient id="g232"><stop offset="0.35" stop-color="#0f1a00" stop-opacity="1"/><stop offset="1" stop-color="#0f1a00" stop-opacity="0"/></radialGradient>
<radialGradient id="g233"><stop offset="0.35" stop-color="#528000" stop-opacity="1"/><stop offset="1" stop-color="#528000" stop-opacity="0"/></radialGradient>
<filter id="f24" filterUnits="userSpaceOnUse" x="-4" y="-4" width="363.7" height="786" color-interpolation-filters="sRGB"><feGaussianBlur in="SourceGraphic" stdDeviation="5" result="b0"/><feColorMatrix in="b0" type="matrix" values="1 0 0 0 0 0 1 0 0 0 0 0 1 0 0 0 0 0 0 1" result="S"/><feTurbulence type="fractalNoise" baseFrequency="0.21 0.09" numOctaves="2" seed="25" result="t1"/><feColorMatrix in="t1" type="matrix" values="1 0 0 0 0 0 1 0 0 0 0 0 1 0 0 0 0 0 0 1" result="n1"/><feTurbulence type="fractalNoise" baseFrequency="0.125 0.07" numOctaves="2" seed="75" result="t2"/><feColorMatrix in="t2" type="matrix" values="1 0 0 0 0 0 1 0 0 0 0 0 1 0 0 0 0 0 0 1" result="n2"/><feComposite in="n1" in2="S" operator="arithmetic" k1="0" k2="1.2" k3="1" k4="-0.6" result="c1"/><feColorMatrix in="c1" type="matrix" values="1 0 0 0 0 1 0 0 0 0 1 0 0 0 0 0 0 0 0 1" result="v"/><feComponentTransfer in="v" result="cc"><feFuncR type="discrete" tableValues="0 0 0 0 0 0 0 0 0 0 0 0 0 0 0 0 0 0 0 0 0 0 0 0 0 0 0.498 0 0 1 1 1 1 1 1 1 1 1 1 1 0.929 0.929 0.882 0.882 0.882 0.706 0.706 0.706 0.706 0.706"/><feFuncG type="discrete" tableValues="0 0.749 0.749 0.749 0.749 0.749 0.749 0.749 0.749 0.749 0.749 0.749 1 1 1 1 1 1 0.69 0.69 0.69 0.545 0.545 0.545 0.545 0.545 0.804 0.933 0.933 1 0.843 0.647 0.647 0.647 0.388 0.388 0.388 0 0 0 0.725 0.725 0.533 0.533 0.533 0.322 0.322 0.322 0.322 0.322"/><feFuncB type="discrete" tableValues="1 1 1 1 1 1 1 1 1 1 1 1 1 1 1 1 1 1 0.431 0.431 0.431 0.039 0.039 0.039 0.039 0.039 0.047 0 0 0 0 0 0 0 0.278 0.278 0.278 0 0 0 0.541 0.541 0.235 0.235 0.235 0.165 0.165 0.165 0.165 0.165"/></feComponentTransfer><feComposite in="n2" in2="S" operator="arithmetic" k1="0" k2="1.6" k3="1" k4="-0.8" result="c2"/><feColorMatrix in="c2" type="matrix" values="0 0 0 0 0 0 0 0 0 0 0 0 0 0 0 0 9 0 0 -4" result="m"/><feComposite in="cc" in2="m" operator="in" result="cm"/><feComposite in="cm" in2="SourceAlpha" operator="in"/></filter>
<clipPath id="c24"><polygon points="0,0 312,482 355.7,778 43.7,296"/></clipPath>
<radialGradient id="g240"><stop offset="0.35" stop-color="#124c00" stop-opacity="1"/><stop offset="1" stop-color="#124c00" stop-opacity="0"/></radialGradient>
<radialGradient id="g241"><stop offset="0.35" stop-color="#0f3300" stop-opacity="1"/><stop offset="1" stop-color="#0f3300" stop-opacity="0"/></radialGradient>
<filter id="f30" filterUnits="userSpaceOnUse" x="-4" y="-4" width="356.2" height="683.9" color-interpolation-filters="sRGB"><feGaussianBlur in="SourceGraphic" stdDeviation="5" result="b0"/><feColorMatrix in="b0" type="matrix" values="1 0 0 0 0 0 1 0 0 0 0 0 1 0 0 0 0 0 0 1" result="S"/><feTurbulence type="fractalNoise" baseFrequency="0.21 0.09" numOctaves="2" seed="31" result="t1"/><feColorMatrix in="t1" type="matrix" values="1 0 0 0 0 0 1 0 0 0 0 0 1 0 0 0 0 0 0 1" result="n1"/><feTurbulence type="fractalNoise" baseFrequency="0.15 0.04" numOctaves="2" seed="81" result="t2"/><feColorMatrix in="t2" type="matrix" values="1 0 0 0 0 0 1 0 0 0 0 0 1 0 0 0 0 0 0 1" result="n2"/><feComposite in="n1" in2="S" operator="arithmetic" k1="0" k2="0.9" k3="1" k4="-0.45" result="c1"/><feColorMatrix in="c1" type="matrix" values="1 0 0 0 0 1 0 0 0 0 1 0 0 0 0 0 0 0 0 1" result="v"/><feComponentTransfer in="v" result="cc"><feFuncR type="discrete" tableValues="0 0 0 0 0 0 0 0 0 0 0 0 0 0 0 0 0 0 0 0 0 0 0 0 0 0 0.498 0 0 1 1 1 1 1 1 1 1 1 1 1 0.929 0.929 0.882 0.882 0.882 0.706 0.706 0.706 0.706 0.706"/><feFuncG type="discrete" tableValues="0 0.749 0.749 0.749 0.749 0.749 0.749 0.749 0.749 0.749 0.749 0.749 1 1 1 1 1 1 0.69 0.69 0.69 0.545 0.545 0.545 0.545 0.545 0.804 0.933 0.933 1 0.843 0.647 0.647 0.647 0.388 0.388 0.388 0 0 0 0.725 0.725 0.533 0.533 0.533 0.322 0.322 0.322 0.322 0.322"/><feFuncB type="discrete" tableValues="1 1 1 1 1 1 1 1 1 1 1 1 1 1 1 1 1 1 0.431 0.431 0.431 0.039 0.039 0.039 0.039 0.039 0.047 0 0 0 0 0 0 0 0.278 0.278 0.278 0 0 0 0.541 0.541 0.235 0.235 0.235 0.165 0.165 0.165 0.165 0.165"/></feComponentTransfer><feComposite in="n2" in2="S" operator="arithmetic" k1="0" k2="1.6" k3="1" k4="-0.8" result="c2"/><feColorMatrix in="c2" type="matrix" values="0 0 0 0 0 0 0 0 0 0 0 0 0 0 0 0 9 0 0 -4" result="m"/><feComposite in="cc" in2="m" operator="in" result="cm"/><feComposite in="cm" in2="SourceAlpha" operator="in"/></filter>
<clipPath id="c30"><polygon points="0,0 319,477.6 348.2,675.9 312.9,619.1 300.5,585.6 285.4,554 255.3,490.8 235.6,468.8 215.7,453.1 186.1,420.1 190.7,450.9 194.5,468.9 199,481.4 224.4,538.3 246.6,596.3 43.7,293.9"/></clipPath>
<radialGradient id="g300"><stop offset="0.35" stop-color="#85b200" stop-opacity="1"/><stop offset="1" stop-color="#85b200" stop-opacity="0"/></radialGradient>
<radialGradient id="g301"><stop offset="0.35" stop-color="#858000" stop-opacity="1"/><stop offset="1" stop-color="#858000" stop-opacity="0"/></radialGradient>
<radialGradient id="g302"><stop offset="0.35" stop-color="#38cc00" stop-opacity="1"/><stop offset="1" stop-color="#38cc00" stop-opacity="0"/></radialGradient>
<radialGradient id="g303"><stop offset="0.35" stop-color="#70cc00" stop-opacity="1"/><stop offset="1" stop-color="#70cc00" stop-opacity="0"/></radialGradient>
<radialGradient id="g304"><stop offset="0.35" stop-color="#3dcc00" stop-opacity="1"/><stop offset="1" stop-color="#3dcc00" stop-opacity="0"/></radialGradient>
<radialGradient id="g305"><stop offset="0.35" stop-color="#91e600" stop-opacity="1"/><stop offset="1" stop-color="#91e600" stop-opacity="0"/></radialGradient>
<filter id="f31" filterUnits="userSpaceOnUse" x="-4" y="-4" width="360.1" height="706.7" color-interpolation-filters="sRGB"><feGaussianBlur in="SourceGraphic" stdDeviation="5" result="b0"/><feColorMatrix in="b0" type="matrix" values="1 0 0 0 0 0 1 0 0 0 0 0 1 0 0 0 0 0 0 1" result="S"/><feTurbulence type="fractalNoise" baseFrequency="0.21 0.09" numOctaves="2" seed="32" result="t1"/><feColorMatrix in="t1" type="matrix" values="1 0 0 0 0 0 1 0 0 0 0 0 1 0 0 0 0 0 0 1" result="n1"/><feTurbulence type="fractalNoise" baseFrequency="0.15 0.04" numOctaves="2" seed="82" result="t2"/><feColorMatrix in="t2" type="matrix" values="1 0 0 0 0 0 1 0 0 0 0 0 1 0 0 0 0 0 0 1" result="n2"/><feComposite in="n1" in2="S" operator="arithmetic" k1="0" k2="0.9" k3="1" k4="-0.45" result="c1"/><feColorMatrix in="c1" type="matrix" values="1 0 0 0 0 1 0 0 0 0 1 0 0 0 0 0 0 0 0 1" result="v"/><feComponentTransfer in="v" result="cc"><feFuncR type="discrete" tableValues="0 0 0 0 0 0 0 0 0 0 0 0 0 0 0 0 0 0 0 0 0 0 0 0 0 0 0.498 0 0 1 1 1 1 1 1 1 1 1 1 1 0.929 0.929 0.882 0.882 0.882 0.706 0.706 0.706 0.706 0.706"/><feFuncG type="discrete" tableValues="0 0.749 0.749 0.749 0.749 0.749 0.749 0.749 0.749 0.749 0.749 0.749 1 1 1 1 1 1 0.69 0.69 0.69 0.545 0.545 0.545 0.545 0.545 0.804 0.933 0.933 1 0.843 0.647 0.647 0.647 0.388 0.388 0.388 0 0 0 0.725 0.725 0.533 0.533 0.533 0.322 0.322 0.322 0.322 0.322"/><feFuncB type="discrete" tableValues="1 1 1 1 1 1 1 1 1 1 1 1 1 1 1 1 1 1 0.431 0.431 0.431 0.039 0.039 0.039 0.039 0.039 0.047 0 0 0 0 0 0 0 0.278 0.278 0.278 0 0 0 0.541 0.541 0.235 0.235 0.235 0.165 0.165 0.165 0.165 0.165"/></feComponentTransfer><feComposite in="n2" in2="S" operator="arithmetic" k1="0" k2="1.6" k3="1" k4="-0.8" result="c2"/><feColorMatrix in="c2" type="matrix" values="0 0 0 0 0 0 0 0 0 0 0 0 0 0 0 0 9 0 0 -4" result="m"/><feComposite in="cc" in2="m" operator="in" result="cm"/><feComposite in="cm" in2="SourceAlpha" operator="in"/></filter>
<clipPath id="c31"><polygon points="0,0 319,477.6 352.1,698.7 309.3,646.2 274.3,598.9 244.9,543.8 228.5,498.6 203.3,448.8 198.8,476.6 227.9,535.7 256.5,607.3 45.5,292.5"/></clipPath>
<radialGradient id="g310"><stop offset="0.35" stop-color="#2bdb00" stop-opacity="1"/><stop offset="1" stop-color="#2bdb00" stop-opacity="0"/></radialGradient>
<radialGradient id="g311"><stop offset="0.35" stop-color="#75d900" stop-opacity="1"/><stop offset="1" stop-color="#75d900" stop-opacity="0"/></radialGradient>
<radialGradient id="g312"><stop offset="0.35" stop-color="#38cc00" stop-opacity="1"/><stop offset="1" stop-color="#38cc00" stop-opacity="0"/></radialGradient>
<radialGradient id="g313"><stop offset="0.35" stop-color="#4ad900" stop-opacity="1"/><stop offset="1" stop-color="#4ad900" stop-opacity="0"/></radialGradient>
<filter id="f32" filterUnits="userSpaceOnUse" x="-4" y="-4" width="371.6" height="781.2" color-interpolation-filters="sRGB"><feGaussianBlur in="SourceGraphic" stdDeviation="5" result="b0"/><feColorMatrix in="b0" type="matrix" values="1 0 0 0 0 0 1 0 0 0 0 0 1 0 0 0 0 0 0 1" result="S"/><feTurbulence type="fractalNoise" baseFrequency="0.21 0.09" numOctaves="2" seed="33" result="t1"/><feColorMatrix in="t1" type="matrix" values="1 0 0 0 0 0 1 0 0 0 0 0 1 0 0 0 0 0 0 1" result="n1"/><feTurbulence type="fractalNoise" baseFrequency="0.15 0.04" numOctaves="2" seed="83" result="t2"/><feColorMatrix in="t2" type="matrix" values="1 0 0 0 0 0 1 0 0 0 0 0 1 0 0 0 0 0 0 1" result="n2"/><feComposite in="n1" in2="S" operator="arithmetic" k1="0" k2="0.85" k3="1" k4="-0.425" result="c1"/><feColorMatrix in="c1" type="matrix" values="1 0 0 0 0 1 0 0 0 0 1 0 0 0 0 0 0 0 0 1" result="v"/><feComponentTransfer in="v" result="cc"><feFuncR type="discrete" tableValues="0 0 0 0 0 0 0 0 0 0 0 0 0 0 0 0 0 0 0 0 0 0 0 0 0 0 0.498 0 0 1 1 1 1 1 1 1 1 1 1 1 0.929 0.929 0.882 0.882 0.882 0.706 0.706 0.706 0.706 0.706"/><feFuncG type="discrete" tableValues="0 0.749 0.749 0.749 0.749 0.749 0.749 0.749 0.749 0.749 0.749 0.749 1 1 1 1 1 1 0.69 0.69 0.69 0.545 0.545 0.545 0.545 0.545 0.804 0.933 0.933 1 0.843 0.647 0.647 0.647 0.388 0.388 0.388 0 0 0 0.725 0.725 0.533 0.533 0.533 0.322 0.322 0.322 0.322 0.322"/><feFuncB type="discrete" tableValues="1 1 1 1 1 1 1 1 1 1 1 1 1 1 1 1 1 1 0.431 0.431 0.431 0.039 0.039 0.039 0.039 0.039 0.047 0 0 0 0 0 0 0 0.278 0.278 0.278 0 0 0 0.541 0.541 0.235 0.235 0.235 0.165 0.165 0.165 0.165 0.165"/></feComponentTransfer><feComposite in="n2" in2="S" operator="arithmetic" k1="0" k2="1.6" k3="1" k4="-0.8" result="c2"/><feColorMatrix in="c2" type="matrix" values="0 0 0 0 0 0 0 0 0 0 0 0 0 0 0 0 9 0 0 -4" result="m"/><feComposite in="cc" in2="m" operator="in" result="cm"/><feComposite in="cm" in2="SourceAlpha" operator="in"/></filter>
<clipPath id="c32"><polygon points="0,0 319,477.6 363.6,773.2 44.7,295.6"/></clipPath>
<radialGradient id="g320"><stop offset="0.35" stop-color="#2b4c00" stop-opacity="1"/><stop offset="1" stop-color="#2b4c00" stop-opacity="0"/></radialGradient>
<radialGradient id="g321"><stop offset="0.35" stop-color="#2bcc00" stop-opacity="1"/><stop offset="1" stop-color="#2bcc00" stop-opacity="0"/></radialGradient>
<radialGradient id="g322"><stop offset="0.35" stop-color="#30a800" stop-opacity="1"/><stop offset="1" stop-color="#30a800" stop-opacity="0"/></radialGradient>
<radialGradient id="g323"><stop offset="0.35" stop-color="#529900" stop-opacity="1"/><stop offset="1" stop-color="#529900" stop-opacity="0"/></radialGradient>
<filter id="f33" filterUnits="userSpaceOnUse" x="-4" y="-4" width="371.6" height="781.2" color-interpolation-filters="sRGB"><feGaussianBlur in="SourceGraphic" stdDeviation="5" result="b0"/><feColorMatrix in="b0" type="matrix" values="1 0 0 0 0 0 1 0 0 0 0 0 1 0 0 0 0 0 0 1" result="S"/><feTurbulence type="fractalNoise" baseFrequency="0.21 0.09" numOctaves="2" seed="34" result="t1"/><feColorMatrix in="t1" type="matrix" values="1 0 0 0 0 0 1 0 0 0 0 0 1 0 0 0 0 0 0 1" result="n1"/><feTurbulence type="fractalNoise" baseFrequency="0.125 0.07" numOctaves="2" seed="84" result="t2"/><feColorMatrix in="t2" type="matrix" values="1 0 0 0 0 0 1 0 0 0 0 0 1 0 0 0 0 0 0 1" result="n2"/><feComposite in="n1" in2="S" operator="arithmetic" k1="0" k2="1.2" k3="1" k4="-0.6" result="c1"/><feColorMatrix in="c1" type="matrix" values="1 0 0 0 0 1 0 0 0 0 1 0 0 0 0 0 0 0 0 1" result="v"/><feComponentTransfer in="v" result="cc"><feFuncR type="discrete" tableValues="0 0 0 0 0 0 0 0 0 0 0 0 0 0 0 0 0 0 0 0 0 0 0 0 0 0 0.498 0 0 1 1 1 1 1 1 1 1 1 1 1 0.929 0.929 0.882 0.882 0.882 0.706 0.706 0.706 0.706 0.706"/><feFuncG type="discrete" tableValues="0 0.749 0.749 0.749 0.749 0.749 0.749 0.749 0.749 0.749 0.749 0.749 1 1 1 1 1 1 0.69 0.69 0.69 0.545 0.545 0.545 0.545 0.545 0.804 0.933 0.933 1 0.843 0.647 0.647 0.647 0.388 0.388 0.388 0 0 0 0.725 0.725 0.533 0.533 0.533 0.322 0.322 0.322 0.322 0.322"/><feFuncB type="discrete" tableValues="1 1 1 1 1 1 1 1 1 1 1 1 1 1 1 1 1 1 0.431 0.431 0.431 0.039 0.039 0.039 0.039 0.039 0.047 0 0 0 0 0 0 0 0.278 0.278 0.278 0 0 0 0.541 0.541 0.235 0.235 0.235 0.165 0.165 0.165 0.165 0.165"/></feComponentTransfer><feComposite in="n2" in2="S" operator="arithmetic" k1="0" k2="1.6" k3="1" k4="-0.8" result="c2"/><feColorMatrix in="c2" type="matrix" values="0 0 0 0 0 0 0 0 0 0 0 0 0 0 0 0 9 0 0 -4" result="m"/><feComposite in="cc" in2="m" operator="in" result="cm"/><feComposite in="cm" in2="SourceAlpha" operator="in"/></filter>
<clipPath id="c33"><polygon points="0,0 319,477.6 363.6,773.2 44.7,295.6"/></clipPath>
<radialGradient id="g330"><stop offset="0.35" stop-color="#2b9400" stop-opacity="1"/><stop offset="1" stop-color="#2b9400" stop-opacity="0"/></radialGradient>
<radialGradient id="g331"><stop offset="0.35" stop-color="#144200" stop-opacity="1"/><stop offset="1" stop-color="#144200" stop-opacity="0"/></radialGradient>
<filter id="f34" filterUnits="userSpaceOnUse" x="-4" y="-4" width="371.6" height="781.2" color-interpolation-filters="sRGB"><feGaussianBlur in="SourceGraphic" stdDeviation="5" result="b0"/><feColorMatrix in="b0" type="matrix" values="1 0 0 0 0 0 1 0 0 0 0 0 1 0 0 0 0 0 0 1" result="S"/><feTurbulence type="fractalNoise" baseFrequency="0.21 0.09" numOctaves="2" seed="35" result="t1"/><feColorMatrix in="t1" type="matrix" values="1 0 0 0 0 0 1 0 0 0 0 0 1 0 0 0 0 0 0 1" result="n1"/><feTurbulence type="fractalNoise" baseFrequency="0.125 0.07" numOctaves="2" seed="85" result="t2"/><feColorMatrix in="t2" type="matrix" values="1 0 0 0 0 0 1 0 0 0 0 0 1 0 0 0 0 0 0 1" result="n2"/><feComposite in="n1" in2="S" operator="arithmetic" k1="0" k2="1.2" k3="1" k4="-0.6" result="c1"/><feColorMatrix in="c1" type="matrix" values="1 0 0 0 0 1 0 0 0 0 1 0 0 0 0 0 0 0 0 1" result="v"/><feComponentTransfer in="v" result="cc"><feFuncR type="discrete" tableValues="0 0 0 0 0 0 0 0 0 0 0 0 0 0 0 0 0 0 0 0 0 0 0 0 0 0 0.498 0 0 1 1 1 1 1 1 1 1 1 1 1 0.929 0.929 0.882 0.882 0.882 0.706 0.706 0.706 0.706 0.706"/><feFuncG type="discrete" tableValues="0 0.749 0.749 0.749 0.749 0.749 0.749 0.749 0.749 0.749 0.749 0.749 1 1 1 1 1 1 0.69 0.69 0.69 0.545 0.545 0.545 0.545 0.545 0.804 0.933 0.933 1 0.843 0.647 0.647 0.647 0.388 0.388 0.388 0 0 0 0.725 0.725 0.533 0.533 0.533 0.322 0.322 0.322 0.322 0.322"/><feFuncB type="discrete" tableValues="1 1 1 1 1 1 1 1 1 1 1 1 1 1 1 1 1 1 0.431 0.431 0.431 0.039 0.039 0.039 0.039 0.039 0.047 0 0 0 0 0 0 0 0.278 0.278 0.278 0 0 0 0.541 0.541 0.235 0.235 0.235 0.165 0.165 0.165 0.165 0.165"/></feComponentTransfer><feComposite in="n2" in2="S" operator="arithmetic" k1="0" k2="1.6" k3="1" k4="-0.8" result="c2"/><feColorMatrix in="c2" type="matrix" values="0 0 0 0 0 0 0 0 0 0 0 0 0 0 0 0 9 0 0 -4" result="m"/><feComposite in="cc" in2="m" operator="in" result="cm"/><feComposite in="cm" in2="SourceAlpha" operator="in"/></filter>
<clipPath id="c34"><polygon points="0,0 319,477.6 363.6,773.2 44.7,295.6"/></clipPath>
<radialGradient id="g340"><stop offset="0.35" stop-color="#175c00" stop-opacity="1"/><stop offset="1" stop-color="#175c00" stop-opacity="0"/></radialGradient>
<filter id="f40" filterUnits="userSpaceOnUse" x="-4" y="-4" width="362.3" height="688.1" color-interpolation-filters="sRGB"><feGaussianBlur in="SourceGraphic" stdDeviation="5" result="b0"/><feColorMatrix in="b0" type="matrix" values="1 0 0 0 0 0 1 0 0 0 0 0 1 0 0 0 0 0 0 1" result="S"/><feTurbulence type="fractalNoise" baseFrequency="0.21 0.09" numOctaves="2" seed="41" result="t1"/><feColorMatrix in="t1" type="matrix" values="1 0 0 0 0 0 1 0 0 0 0 0 1 0 0 0 0 0 0 1" result="n1"/><feTurbulence type="fractalNoise" baseFrequency="0.15 0.04" numOctaves="2" seed="91" result="t2"/><feColorMatrix in="t2" type="matrix" values="1 0 0 0 0 0 1 0 0 0 0 0 1 0 0 0 0 0 0 1" result="n2"/><feComposite in="n1" in2="S" operator="arithmetic" k1="0" k2="1.1" k3="1" k4="-0.55" result="c1"/><feColorMatrix in="c1" type="matrix" values="1 0 0 0 0 1 0 0 0 0 1 0 0 0 0 0 0 0 0 1" result="v"/><feComponentTransfer in="v" result="cc"><feFuncR type="discrete" tableValues="0 0 0 0 0 0 0 0 0 0 0 0 0 0 0 0 0 0 0 0 0 0 0 0 0 0 0.498 0 0 1 1 1 1 1 1 1 1 1 1 1 0.929 0.929 0.882 0.882 0.882 0.706 0.706 0.706 0.706 0.706"/><feFuncG type="discrete" tableValues="0 0.749 0.749 0.749 0.749 0.749 0.749 0.749 0.749 0.749 0.749 0.749 1 1 1 1 1 1 0.69 0.69 0.69 0.545 0.545 0.545 0.545 0.545 0.804 0.933 0.933 1 0.843 0.647 0.647 0.647 0.388 0.388 0.388 0 0 0 0.725 0.725 0.533 0.533 0.533 0.322 0.322 0.322 0.322 0.322"/><feFuncB type="discrete" tableValues="1 1 1 1 1 1 1 1 1 1 1 1 1 1 1 1 1 1 0.431 0.431 0.431 0.039 0.039 0.039 0.039 0.039 0.047 0 0 0 0 0 0 0 0.278 0.278 0.278 0 0 0 0.541 0.541 0.235 0.235 0.235 0.165 0.165 0.165 0.165 0.165"/></feComponentTransfer><feComposite in="n2" in2="S" operator="arithmetic" k1="0" k2="1.6" k3="1" k4="-0.8" result="c2"/><feColorMatrix in="c2" type="matrix" values="0 0 0 0 0 0 0 0 0 0 0 0 0 0 0 0 9 0 0 -4" result="m"/><feComposite in="cc" in2="m" operator="in" result="cm"/><feComposite in="cm" in2="SourceAlpha" operator="in"/></filter>
<clipPath id="c40"><polygon points="0,0 324.6,494.5 354.3,680.1 318.4,621.8 305.8,589 290.5,557.4 259.8,494.3 239.8,470.6 219.5,452.5 189.4,416.9 194.1,445.7 197.9,462.8 202.5,475 228.3,531.5 251,588.4 44.5,275.1"/></clipPath>
<radialGradient id="g400"><stop offset="0.35" stop-color="#99bd00" stop-opacity="1"/><stop offset="1" stop-color="#99bd00" stop-opacity="0"/></radialGradient>
<radialGradient id="g401"><stop offset="0.35" stop-color="#66cc00" stop-opacity="1"/><stop offset="1" stop-color="#66cc00" stop-opacity="0"/></radialGradient>
<radialGradient id="g402"><stop offset="0.35" stop-color="#8a6b00" stop-opacity="1"/><stop offset="1" stop-color="#8a6b00" stop-opacity="0"/></radialGradient>
<radialGradient id="g403"><stop offset="0.35" stop-color="#52cc00" stop-opacity="1"/><stop offset="1" stop-color="#52cc00" stop-opacity="0"/></radialGradient>
<radialGradient id="g404"><stop offset="0.35" stop-color="#80e600" stop-opacity="1"/><stop offset="1" stop-color="#80e600" stop-opacity="0"/></radialGradient>
<filter id="f41" filterUnits="userSpaceOnUse" x="-4" y="-4" width="366.3" height="709.5" color-interpolation-filters="sRGB"><feGaussianBlur in="SourceGraphic" stdDeviation="5" result="b0"/><feColorMatrix in="b0" type="matrix" values="1 0 0 0 0 0 1 0 0 0 0 0 1 0 0 0 0 0 0 1" result="S"/><feTurbulence type="fractalNoise" baseFrequency="0.21 0.09" numOctaves="2" seed="42" result="t1"/><feColorMatrix in="t1" type="matrix" values="1 0 0 0 0 0 1 0 0 0 0 0 1 0 0 0 0 0 0 1" result="n1"/><feTurbulence type="fractalNoise" baseFrequency="0.15 0.04" numOctaves="2" seed="92" result="t2"/><feColorMatrix in="t2" type="matrix" values="1 0 0 0 0 0 1 0 0 0 0 0 1 0 0 0 0 0 0 1" result="n2"/><feComposite in="n1" in2="S" operator="arithmetic" k1="0" k2="1.0" k3="1" k4="-0.5" result="c1"/><feColorMatrix in="c1" type="matrix" values="1 0 0 0 0 1 0 0 0 0 1 0 0 0 0 0 0 0 0 1" result="v"/><feComponentTransfer in="v" result="cc"><feFuncR type="discrete" tableValues="0 0 0 0 0 0 0 0 0 0 0 0 0 0 0 0 0 0 0 0 0 0 0 0 0 0 0.498 0 0 1 1 1 1 1 1 1 1 1 1 1 0.929 0.929 0.882 0.882 0.882 0.706 0.706 0.706 0.706 0.706"/><feFuncG type="discrete" tableValues="0 0.749 0.749 0.749 0.749 0.749 0.749 0.749 0.749 0.749 0.749 0.749 1 1 1 1 1 1 0.69 0.69 0.69 0.545 0.545 0.545 0.545 0.545 0.804 0.933 0.933 1 0.843 0.647 0.647 0.647 0.388 0.388 0.388 0 0 0 0.725 0.725 0.533 0.533 0.533 0.322 0.322 0.322 0.322 0.322"/><feFuncB type="discrete" tableValues="1 1 1 1 1 1 1 1 1 1 1 1 1 1 1 1 1 1 0.431 0.431 0.431 0.039 0.039 0.039 0.039 0.039 0.047 0 0 0 0 0 0 0 0.278 0.278 0.278 0 0 0 0.541 0.541 0.235 0.235 0.235 0.165 0.165 0.165 0.165 0.165"/></feComponentTransfer><feComposite in="n2" in2="S" operator="arithmetic" k1="0" k2="1.6" k3="1" k4="-0.8" result="c2"/><feColorMatrix in="c2" type="matrix" values="0 0 0 0 0 0 0 0 0 0 0 0 0 0 0 0 9 0 0 -4" result="m"/><feComposite in="cc" in2="m" operator="in" result="cm"/><feComposite in="cm" in2="SourceAlpha" operator="in"/></filter>
<clipPath id="c41"><polygon points="0,0 324.6,494.5 358.3,701.5 314.7,645.7 279.1,596.1 249.2,540.5 232.5,496.3 206.9,446.3 202.3,470.7 231.9,529.8 261,600.3 46.3,274.3"/></clipPath>
<radialGradient id="g410"><stop offset="0.35" stop-color="#78c700" stop-opacity="1"/><stop offset="1" stop-color="#78c700" stop-opacity="0"/></radialGradient>
<radialGradient id="g411"><stop offset="0.35" stop-color="#4cd900" stop-opacity="1"/><stop offset="1" stop-color="#4cd900" stop-opacity="0"/></radialGradient>
<filter id="f42" filterUnits="userSpaceOnUse" x="-4" y="-4" width="378.1" height="779.4" color-interpolation-filters="sRGB"><feGaussianBlur in="SourceGraphic" stdDeviation="5" result="b0"/><feColorMatrix in="b0" type="matrix" values="1 0 0 0 0 0 1 0 0 0 0 0 1 0 0 0 0 0 0 1" result="S"/><feTurbulence type="fractalNoise" baseFrequency="0.21 0.09" numOctaves="2" seed="43" result="t1"/><feColorMatrix in="t1" type="matrix" values="1 0 0 0 0 0 1 0 0 0 0 0 1 0 0 0 0 0 0 1" result="n1"/><feTurbulence type="fractalNoise" baseFrequency="0.15 0.04" numOctaves="2" seed="93" result="t2"/><feColorMatrix in="t2" type="matrix" values="1 0 0 0 0 0 1 0 0 0 0 0 1 0 0 0 0 0 0 1" result="n2"/><feComposite in="n1" in2="S" operator="arithmetic" k1="0" k2="1.0" k3="1" k4="-0.5" result="c1"/><feColorMatrix in="c1" type="matrix" values="1 0 0 0 0 1 0 0 0 0 1 0 0 0 0 0 0 0 0 1" result="v"/><feComponentTransfer in="v" result="cc"><feFuncR type="discrete" tableValues="0 0 0 0 0 0 0 0 0 0 0 0 0 0 0 0 0 0 0 0 0 0 0 0 0 0 0.498 0 0 1 1 1 1 1 1 1 1 1 1 1 0.929 0.929 0.882 0.882 0.882 0.706 0.706 0.706 0.706 0.706"/><feFuncG type="discrete" tableValues="0 0.749 0.749 0.749 0.749 0.749 0.749 0.749 0.749 0.749 0.749 0.749 1 1 1 1 1 1 0.69 0.69 0.69 0.545 0.545 0.545 0.545 0.545 0.804 0.933 0.933 1 0.843 0.647 0.647 0.647 0.388 0.388 0.388 0 0 0 0.725 0.725 0.533 0.533 0.533 0.322 0.322 0.322 0.322 0.322"/><feFuncB type="discrete" tableValues="1 1 1 1 1 1 1 1 1 1 1 1 1 1 1 1 1 1 0.431 0.431 0.431 0.039 0.039 0.039 0.039 0.039 0.047 0 0 0 0 0 0 0 0.278 0.278 0.278 0 0 0 0.541 0.541 0.235 0.235 0.235 0.165 0.165 0.165 0.165 0.165"/></feComponentTransfer><feComposite in="n2" in2="S" operator="arithmetic" k1="0" k2="1.6" k3="1" k4="-0.8" result="c2"/><feColorMatrix in="c2" type="matrix" values="0 0 0 0 0 0 0 0 0 0 0 0 0 0 0 0 9 0 0 -4" result="m"/><feComposite in="cc" in2="m" operator="in" result="cm"/><feComposite in="cm" in2="SourceAlpha" operator="in"/></filter>
<clipPath id="c42"><polygon points="0,0 324.6,494.5 370.1,771.4 45.4,276.9"/></clipPath>
<radialGradient id="g420"><stop offset="0.35" stop-color="#709900" stop-opacity="1"/><stop offset="1" stop-color="#709900" stop-opacity="0"/></radialGradient>
<radialGradient id="g421"><stop offset="0.35" stop-color="#30a800" stop-opacity="1"/><stop offset="1" stop-color="#30a800" stop-opacity="0"/></radialGradient>
<radialGradient id="g422"><stop offset="0.35" stop-color="#598c00" stop-opacity="1"/><stop offset="1" stop-color="#598c00" stop-opacity="0"/></radialGradient>
<filter id="f43" filterUnits="userSpaceOnUse" x="-4" y="-4" width="378.1" height="779.4" color-interpolation-filters="sRGB"><feGaussianBlur in="SourceGraphic" stdDeviation="5" result="b0"/><feColorMatrix in="b0" type="matrix" values="1 0 0 0 0 0 1 0 0 0 0 0 1 0 0 0 0 0 0 1" result="S"/><feTurbulence type="fractalNoise" baseFrequency="0.21 0.09" numOctaves="2" seed="44" result="t1"/><feColorMatrix in="t1" type="matrix" values="1 0 0 0 0 0 1 0 0 0 0 0 1 0 0 0 0 0 0 1" result="n1"/><feTurbulence type="fractalNoise" baseFrequency="0.125 0.07" numOctaves="2" seed="94" result="t2"/><feColorMatrix in="t2" type="matrix" values="1 0 0 0 0 0 1 0 0 0 0 0 1 0 0 0 0 0 0 1" result="n2"/><feComposite in="n1" in2="S" operator="arithmetic" k1="0" k2="1.2" k3="1" k4="-0.6" result="c1"/><feColorMatrix in="c1" type="matrix" values="1 0 0 0 0 1 0 0 0 0 1 0 0 0 0 0 0 0 0 1" result="v"/><feComponentTransfer in="v" result="cc"><feFuncR type="discrete" tableValues="0 0 0 0 0 0 0 0 0 0 0 0 0 0 0 0 0 0 0 0 0 0 0 0 0 0 0.498 0 0 1 1 1 1 1 1 1 1 1 1 1 0.929 0.929 0.882 0.882 0.882 0.706 0.706 0.706 0.706 0.706"/><feFuncG type="discrete" tableValues="0 0.749 0.749 0.749 0.749 0.749 0.749 0.749 0.749 0.749 0.749 0.749 1 1 1 1 1 1 0.69 0.69 0.69 0.545 0.545 0.545 0.545 0.545 0.804 0.933 0.933 1 0.843 0.647 0.647 0.647 0.388 0.388 0.388 0 0 0 0.725 0.725 0.533 0.533 0.533 0.322 0.322 0.322 0.322 0.322"/><feFuncB type="discrete" tableValues="1 1 1 1 1 1 1 1 1 1 1 1 1 1 1 1 1 1 0.431 0.431 0.431 0.039 0.039 0.039 0.039 0.039 0.047 0 0 0 0 0 0 0 0.278 0.278 0.278 0 0 0 0.541 0.541 0.235 0.235 0.235 0.165 0.165 0.165 0.165 0.165"/></feComponentTransfer><feComposite in="n2" in2="S" operator="arithmetic" k1="0" k2="1.6" k3="1" k4="-0.8" result="c2"/><feColorMatrix in="c2" type="matrix" values="0 0 0 0 0 0 0 0 0 0 0 0 0 0 0 0 9 0 0 -4" result="m"/><feComposite in="cc" in2="m" operator="in" result="cm"/><feComposite in="cm" in2="SourceAlpha" operator="in"/></filter>
<clipPath id="c43"><polygon points="0,0 324.6,494.5 370.1,771.4 45.4,276.9"/></clipPath>
<radialGradient id="g430"><stop offset="0.35" stop-color="#2b8c00" stop-opacity="1"/><stop offset="1" stop-color="#2b8c00" stop-opacity="0"/></radialGradient>
<radialGradient id="g431"><stop offset="0.35" stop-color="#144700" stop-opacity="1"/><stop offset="1" stop-color="#144700" stop-opacity="0"/></radialGradient>
<filter id="f44" filterUnits="userSpaceOnUse" x="-4" y="-4" width="378.1" height="779.4" color-interpolation-filters="sRGB"><feGaussianBlur in="SourceGraphic" stdDeviation="5" result="b0"/><feColorMatrix in="b0" type="matrix" values="1 0 0 0 0 0 1 0 0 0 0 0 1 0 0 0 0 0 0 1" result="S"/><feTurbulence type="fractalNoise" baseFrequency="0.21 0.09" numOctaves="2" seed="45" result="t1"/><feColorMatrix in="t1" type="matrix" values="1 0 0 0 0 0 1 0 0 0 0 0 1 0 0 0 0 0 0 1" result="n1"/><feTurbulence type="fractalNoise" baseFrequency="0.125 0.07" numOctaves="2" seed="95" result="t2"/><feColorMatrix in="t2" type="matrix" values="1 0 0 0 0 0 1 0 0 0 0 0 1 0 0 0 0 0 0 1" result="n2"/><feComposite in="n1" in2="S" operator="arithmetic" k1="0" k2="1.2" k3="1" k4="-0.6" result="c1"/><feColorMatrix in="c1" type="matrix" values="1 0 0 0 0 1 0 0 0 0 1 0 0 0 0 0 0 0 0 1" result="v"/><feComponentTransfer in="v" result="cc"><feFuncR type="discrete" tableValues="0 0 0 0 0 0 0 0 0 0 0 0 0 0 0 0 0 0 0 0 0 0 0 0 0 0 0.498 0 0 1 1 1 1 1 1 1 1 1 1 1 0.929 0.929 0.882 0.882 0.882 0.706 0.706 0.706 0.706 0.706"/><feFuncG type="discrete" tableValues="0 0.749 0.749 0.749 0.749 0.749 0.749 0.749 0.749 0.749 0.749 0.749 1 1 1 1 1 1 0.69 0.69 0.69 0.545 0.545 0.545 0.545 0.545 0.804 0.933 0.933 1 0.843 0.647 0.647 0.647 0.388 0.388 0.388 0 0 0 0.725 0.725 0.533 0.533 0.533 0.322 0.322 0.322 0.322 0.322"/><feFuncB type="discrete" tableValues="1 1 1 1 1 1 1 1 1 1 1 1 1 1 1 1 1 1 0.431 0.431 0.431 0.039 0.039 0.039 0.039 0.039 0.047 0 0 0 0 0 0 0 0.278 0.278 0.278 0 0 0 0.541 0.541 0.235 0.235 0.235 0.165 0.165 0.165 0.165 0.165"/></feComponentTransfer><feComposite in="n2" in2="S" operator="arithmetic" k1="0" k2="1.6" k3="1" k4="-0.8" result="c2"/><feColorMatrix in="c2" type="matrix" values="0 0 0 0 0 0 0 0 0 0 0 0 0 0 0 0 9 0 0 -4" result="m"/><feComposite in="cc" in2="m" operator="in" result="cm"/><feComposite in="cm" in2="SourceAlpha" operator="in"/></filter>
<clipPath id="c44"><polygon points="0,0 324.6,494.5 370.1,771.4 45.4,276.9"/></clipPath>
<radialGradient id="g440"><stop offset="0.35" stop-color="#176100" stop-opacity="1"/><stop offset="1" stop-color="#176100" stop-opacity="0"/></radialGradient>
</defs>
<use href="#flr" transform="matrix(1.009 -0.074 0.961 0.343 243 787)"/>
<g transform="matrix(0.479 -0.878 0.878 0.479 243 602)"><g filter="url(#f10)">
<polygon points="0,0 317.8,493 346.9,682.2 311.7,623.9 299.4,590.8 284.4,559.1 254.4,495.7 234.7,472.3 214.9,454.6 185.4,419.4 190,448.8 193.8,466.1 198.3,478.5 223.5,535.3 245.7,592.7 43.5,280.4" fill="#69b800"/>
<g clip-path="url(#c10)"><g transform="matrix(5.479 8.5 -1.589 -10.076 -138 227.4)">
<ellipse cx="47" cy="33" rx="9" ry="5" fill="url(#g100)"/>
<ellipse cx="78" cy="55" rx="22" ry="5" fill="url(#g101)"/>
<ellipse cx="68" cy="44" rx="10" ry="6" fill="url(#g102)"/>
<ellipse cx="74" cy="31.5" rx="7" ry="2.4" fill="url(#g103)"/>
<ellipse cx="93" cy="44" rx="8" ry="5" fill="url(#g104)"/>
<ellipse cx="86" cy="40.5" rx="4" ry="1.2" fill="url(#g105)"/>
</g></g>
<polygon points="216.5,476.5 242.1,502.4 283.5,559.6 300.4,594.8 292.8,595.5 265,569.6 244.9,543.1 223.2,501.3" fill="#fff200"/>
</g></g>
<polygon points="769,591 800,588 859,595 850,599 800,597" fill="#fff"/>
<g transform="matrix(0.479 -0.878 0.878 0.479 243 466)"><g filter="url(#f11)">
<polygon points="0,0 317.8,493 350.8,704 308.1,648.6 273.3,599.3 244,543.5 227.6,498.9 202.6,448.8 198.1,474 227.1,533.4 255.5,604.4 45.3,279.4" fill="#59b800"/>
<g clip-path="url(#c11)"><g transform="matrix(5.479 8.5 -1.589 -10.076 -138 227.4)">
<ellipse cx="68" cy="47" rx="12" ry="8" fill="url(#g110)"/>
<ellipse cx="58" cy="32.5" rx="26" ry="5" fill="url(#g111)"/>
<ellipse cx="46" cy="40" rx="6" ry="9" fill="url(#g112)"/>
<ellipse cx="86" cy="52" rx="10" ry="6" fill="url(#g113)"/>
<ellipse cx="80.5" cy="39.3" rx="17" ry="4.6" fill="url(#g114)"/>
</g></g>
</g></g>
<g transform="matrix(0.479 -0.878 0.878 0.479 243 330)"><g filter="url(#f12)">
<polygon points="0,0 317.8,493 362.3,775.2 44.5,282.1" fill="#388c00"/>
<g clip-path="url(#c12)"><g transform="matrix(5.479 8.5 -1.589 -10.076 -138 227.4)">
<ellipse cx="48" cy="55" rx="16" ry="8" fill="url(#g120)"/>
<ellipse cx="70" cy="33" rx="44" ry="10" fill="url(#g121)"/>
<ellipse cx="47" cy="37" rx="8" ry="9" fill="url(#g122)"/>
<ellipse cx="88" cy="37" rx="14" ry="8" fill="url(#g123)"/>
</g></g>
</g></g>
<g transform="matrix(0.479 -0.878 0.878 0.479 243 194)"><g filter="url(#f13)">
<polygon points="0,0 317.8,493 362.3,775.2 44.5,282.1" fill="#1a5900"/>
<g clip-path="url(#c13)"><g transform="matrix(5.479 8.5 -1.589 -10.076 -138 227.4)">
<ellipse cx="45" cy="54" rx="11" ry="9" fill="url(#g130)"/>
<ellipse cx="88" cy="40" rx="18" ry="12" fill="url(#g131)"/>
<ellipse cx="65" cy="32" rx="25" ry="6" fill="url(#g132)"/>
</g></g>
</g></g>
<g transform="matrix(0.479 -0.878 0.878 0.479 243 58)"><g filter="url(#f14)">
<polygon points="0,0 317.8,493 362.3,775.2 44.5,282.1" fill="#1a5400"/>
<g clip-path="url(#c14)"><g transform="matrix(5.479 8.5 -1.589 -10.076 -138 227.4)">
<ellipse cx="42" cy="44" rx="3.5" ry="20" fill="url(#g140)"/>
<ellipse cx="80" cy="45" rx="18" ry="12" fill="url(#g141)"/>
</g></g>
</g></g>
<line x1="242.5" y1="57" x2="242.5" y2="788" stroke="#c4c4c4" stroke-width="3.5"/>
<line x1="224.5" y1="593" x2="242.5" y2="599.5" stroke="#333" stroke-width="2" stroke-dasharray="7 2.5 10 0"/>
<text x="211.5" y="607" font-size="41" text-anchor="end">0-2km</text>
<line x1="224.5" y1="458" x2="242.5" y2="464.5" stroke="#333" stroke-width="2" stroke-dasharray="7 2.5 10 0"/>
<text x="211.5" y="470" font-size="41" text-anchor="end">2-4km</text>
<line x1="224.5" y1="323" x2="242.5" y2="329.5" stroke="#333" stroke-width="2" stroke-dasharray="7 2.5 10 0"/>
<text x="211.5" y="335" font-size="41" text-anchor="end">4-6km</text>
<line x1="224.5" y1="187" x2="242.5" y2="193.5" stroke="#333" stroke-width="2" stroke-dasharray="7 2.5 10 0"/>
<text x="211.5" y="200" font-size="41" text-anchor="end">6-8km</text>
<line x1="224.5" y1="55" x2="242.5" y2="61.5" stroke="#333" stroke-width="2" stroke-dasharray="7 2.5 10 0"/>
<text x="211.5" y="65" font-size="41" text-anchor="end">8-10km</text>
<text x="977" y="52" font-size="52" text-anchor="start">MAM</text>
<text transform="translate(59.5 422) rotate(-90)" font-size="41" text-anchor="middle">Height/(KM)</text>
<line x1="320" y1="817" x2="320" y2="833" stroke="#555" stroke-width="2.6"/>
<line x1="415" y1="848" x2="415" y2="867" stroke="#555" stroke-width="2.6"/>
<line x1="512" y1="883" x2="512" y2="902" stroke="#555" stroke-width="2.6"/>
<line x1="592" y1="877" x2="592" y2="893" stroke="#ddd" stroke-width="2.6"/>
<line x1="693" y1="870" x2="693" y2="887" stroke="#555" stroke-width="2.6"/>
<line x1="794" y1="863" x2="794" y2="880" stroke="#555" stroke-width="2.6"/>
<line x1="896" y1="855" x2="896" y2="873" stroke="#555" stroke-width="2.6"/>
<line x1="997" y1="848" x2="997" y2="865" stroke="#bbb" stroke-width="2.6"/>
<line x1="1097" y1="840" x2="1097" y2="857" stroke="#888" stroke-width="2.6"/>
<text x="279" y="887" font-size="41" text-anchor="start">50</text>
<text x="376" y="920" font-size="41" text-anchor="start">40</text>
<text x="471" y="955" font-size="41" text-anchor="start">30</text>
<text x="592" y="950" font-size="41" text-anchor="start">50</text>
<text x="694" y="942" font-size="41" text-anchor="start">60</text>
<text x="796" y="933" font-size="41" text-anchor="start">70</text>
<text x="896" y="925" font-size="41" text-anchor="start">80</text>
<text x="996" y="917" font-size="41" text-anchor="start">90</text>
<text x="1099" y="910" font-size="41" text-anchor="start">100</text>
<text x="202" y="965" font-size="41" text-anchor="start">Lat(°N)</text>
<text x="787" y="977" font-size="41" text-anchor="start">Lon(°E)</text>
<use href="#flr" transform="matrix(0.986 -0.086 1.007 0.357 1376 780)"/>
<g transform="matrix(0.468 -0.884 0.884 0.468 1376 600)"><g filter="url(#f20)">
<polygon points="0,0 312,482 340.6,680.6 306,623.3 293.9,589.6 279.2,557.8 249.7,494.2 230.4,471.9 210.9,455.9 182,422.5 186.6,453.3 190.3,471.4 194.6,484 219.5,541.2 241.2,599.5 42.7,294.3" fill="#5cc200"/>
<g clip-path="url(#c20)"><g transform="matrix(5.379 8.311 -1.56 -10.571 -135.5 264.1)">
<ellipse cx="66" cy="56" rx="30" ry="3.5" fill="url(#g200)"/>
<ellipse cx="52" cy="43" rx="13" ry="11" fill="url(#g201)"/>
<ellipse cx="58" cy="32" rx="19" ry="4" fill="url(#g202)"/>
<ellipse cx="74.5" cy="31.2" rx="8" ry="2.0" fill="url(#g203)"/>
<ellipse cx="90" cy="51" rx="11" ry="7" fill="url(#g204)"/>
<ellipse cx="43" cy="55" rx="4" ry="6" fill="url(#g205)"/>
</g></g>
<polygon points="212.6,479.2 237.7,503.2 278.3,558.4 294.9,593.7 287.5,595.6 260.2,571.9 240.4,546.4 219.2,504.8" fill="#a8e600"/>
</g></g>
<polygon points="1894.8,584.4 1925,581 1984.6,588 1976.3,592.3 1926.5,590.6" fill="#fff"/>
<g transform="matrix(0.468 -0.884 0.884 0.468 1376 465)"><g filter="url(#f21)">
<polygon points="0,0 312,482 344.4,703.4 302.5,650.3 268.3,602.5 239.5,547 223.5,501.6 198.9,451.5 194.5,479.2 222.9,538.6 250.9,610.6 44.5,293" fill="#52bf00"/>
<g clip-path="url(#c21)"><g transform="matrix(5.379 8.311 -1.56 -10.571 -135.5 264.1)">
<ellipse cx="60" cy="41" rx="22" ry="11" fill="url(#g210)"/>
<ellipse cx="70" cy="56" rx="36" ry="3.5" fill="url(#g211)"/>
<ellipse cx="90" cy="43" rx="12" ry="7" fill="url(#g212)"/>
<ellipse cx="84" cy="39.3" rx="8" ry="2.6" fill="url(#g213)"/>
<ellipse cx="74" cy="31.5" rx="7" ry="2.5" fill="url(#g214)"/>
<ellipse cx="43" cy="55" rx="4" ry="6" fill="url(#g215)"/>
</g></g>
</g></g>
<g transform="matrix(0.468 -0.884 0.884 0.468 1376 330)"><g filter="url(#f22)">
<polygon points="0,0 312,482 355.7,778 43.7,296" fill="#387300"/>
<g clip-path="url(#c22)"><g transform="matrix(5.379 8.311 -1.56 -10.571 -135.5 264.1)">
<ellipse cx="50" cy="54" rx="18" ry="8" fill="url(#g220)"/>
<ellipse cx="62" cy="35" rx="24" ry="9" fill="url(#g221)"/>
<ellipse cx="88" cy="40" rx="14" ry="10" fill="url(#g222)"/>
<ellipse cx="75" cy="55" rx="25" ry="5" fill="url(#g223)"/>
<ellipse cx="98" cy="32" rx="5" ry="5" fill="url(#g224)"/>
</g></g>
</g></g>
<g transform="matrix(0.468 -0.884 0.884 0.468 1376 195)"><g filter="url(#f23)">
<polygon points="0,0 312,482 355.7,778 43.7,296" fill="#123300"/>
<g clip-path="url(#c23)"><g transform="matrix(5.379 8.311 -1.56 -10.571 -135.5 264.1)">
<ellipse cx="68" cy="34" rx="26" ry="6" fill="url(#g230)"/>
<ellipse cx="92" cy="43" rx="10" ry="10" fill="url(#g231)"/>
<ellipse cx="52" cy="52" rx="15" ry="10" fill="url(#g232)"/>
<ellipse cx="97" cy="36" rx="5" ry="5" fill="url(#g233)"/>
</g></g>
</g></g>
<g transform="matrix(0.468 -0.884 0.884 0.468 1376 64)"><g filter="url(#f24)">
<polygon points="0,0 312,482 355.7,778 43.7,296" fill="#0f1f00"/>
<g clip-path="url(#c24)"><g transform="matrix(5.379 8.311 -1.56 -10.571 -135.5 264.1)">
<ellipse cx="87" cy="46" rx="16" ry="14" fill="url(#g240)"/>
<ellipse cx="62" cy="40" rx="10" ry="10" fill="url(#g241)"/>
</g></g>
</g></g>
<line x1="1376" y1="62" x2="1376" y2="781" stroke="#5c5c5c" stroke-width="3.6"/>
<line x1="1358" y1="592" x2="1376" y2="598.5" stroke="#333" stroke-width="2" stroke-dasharray="7 2.5 10 0"/>
<text x="1343.5" y="602" font-size="41" text-anchor="end">0-2km</text>
<line x1="1358" y1="457" x2="1376" y2="463.5" stroke="#333" stroke-width="2" stroke-dasharray="7 2.5 10 0"/>
<text x="1343.5" y="468" font-size="41" text-anchor="end">2-4km</text>
<line x1="1358" y1="323" x2="1376" y2="329.5" stroke="#333" stroke-width="2" stroke-dasharray="7 2.5 10 0"/>
<text x="1343.5" y="335" font-size="41" text-anchor="end">4-6km</text>
<line x1="1358" y1="188" x2="1376" y2="194.5" stroke="#333" stroke-width="2" stroke-dasharray="7 2.5 10 0"/>
<text x="1343.5" y="200" font-size="41" text-anchor="end">6-8km</text>
<line x1="1358" y1="57" x2="1376" y2="63.5" stroke="#333" stroke-width="2" stroke-dasharray="7 2.5 10 0"/>
<text x="1343.5" y="68" font-size="41" text-anchor="end">8-10km</text>
<text x="2117" y="52" font-size="52" text-anchor="start">JJA</text>
<text transform="translate(1193 422) rotate(-90)" font-size="41" text-anchor="middle">Height/(KM)</text>
<line x1="1457" y1="810" x2="1457" y2="827" stroke="#555" stroke-width="2.6"/>
<line x1="1558" y1="845" x2="1558" y2="862" stroke="#555" stroke-width="2.6"/>
<line x1="1659" y1="880" x2="1659" y2="898" stroke="#555" stroke-width="2.6"/>
<line x1="1736" y1="875" x2="1736" y2="892" stroke="#555" stroke-width="2.6"/>
<line x1="1834" y1="867" x2="1834" y2="883" stroke="#555" stroke-width="2.6"/>
<line x1="1933" y1="857" x2="1933" y2="875" stroke="#555" stroke-width="2.6"/>
<line x1="2032" y1="848" x2="2032" y2="865" stroke="#555" stroke-width="2.6"/>
<line x1="2131" y1="840" x2="2131" y2="857" stroke="#555" stroke-width="2.6"/>
<line x1="2230" y1="830" x2="2230" y2="848" stroke="#555" stroke-width="2.6"/>
<text x="1414" y="880" font-size="41" text-anchor="start">50</text>
<text x="1516" y="915" font-size="41" text-anchor="start">40</text>
<text x="1616" y="952" font-size="41" text-anchor="start">30</text>
<text x="1736" y="947" font-size="41" text-anchor="start">50</text>
<text x="1836" y="937" font-size="41" text-anchor="start">60</text>
<text x="1934" y="928" font-size="41" text-anchor="start">70</text>
<text x="2032" y="920" font-size="41" text-anchor="start">80</text>
<text x="2131" y="912" font-size="41" text-anchor="start">90</text>
<text x="2232" y="902" font-size="41" text-anchor="start">100</text>
<text x="1347" y="960" font-size="41" text-anchor="start">Lat(°N)</text>
<text x="1931" y="973" font-size="41" text-anchor="start">Lon(°E)</text>
<use href="#flr" transform="matrix(0.986 -0.09 1.004 0.364 237 1868)"/>
<g transform="matrix(0.478 -0.878 0.878 0.478 237 1687)"><g filter="url(#f30)">
<polygon points="0,0 319,477.6 348.2,675.9 312.9,619.1 300.5,585.6 285.4,554 255.3,490.8 235.6,468.8 215.7,453.1 186.1,420.1 190.7,450.9 194.5,468.9 199,481.4 224.4,538.3 246.6,596.3 43.7,293.9" fill="#61bd00"/>
<g clip-path="url(#c30)"><g transform="matrix(5.5 8.235 -1.595 -10.557 -138.5 266.4)">
<ellipse cx="70" cy="55" rx="36" ry="6" fill="url(#g300)"/>
<ellipse cx="88" cy="53" rx="10" ry="6" fill="url(#g301)"/>
<ellipse cx="65" cy="40" rx="14" ry="8" fill="url(#g302)"/>
<ellipse cx="47" cy="34" rx="8" ry="6" fill="url(#g303)"/>
<ellipse cx="95" cy="42" rx="7" ry="4" fill="url(#g304)"/>
<ellipse cx="74" cy="31.5" rx="6" ry="2" fill="url(#g305)"/>
</g></g>
<polygon points="217.3,476.3 243,500 284.5,554.6 301.5,589.7 293.9,591.7 266,568.4 245.8,543.2 224.1,501.9" fill="#9ee600"/>
</g></g>
<polygon points="755.6,1670.3 785.8,1666.8 845.3,1673.9 837,1678.3 787.2,1676.6" fill="#fff"/>
<g transform="matrix(0.478 -0.878 0.878 0.478 237 1553)"><g filter="url(#f31)">
<polygon points="0,0 319,477.6 352.1,698.7 309.3,646.2 274.3,598.9 244.9,543.8 228.5,498.6 203.3,448.8 198.8,476.6 227.9,535.7 256.5,607.3 45.5,292.5" fill="#599e00"/>
<g clip-path="url(#c31)"><g transform="matrix(5.5 8.235 -1.595 -10.557 -138.5 266.4)">
<ellipse cx="70" cy="35" rx="20" ry="8" fill="url(#g310)"/>
<ellipse cx="89" cy="41" rx="8" ry="4" fill="url(#g311)"/>
<ellipse cx="97" cy="36" rx="5" ry="5" fill="url(#g312)"/>
<ellipse cx="74" cy="31.5" rx="7" ry="2.5" fill="url(#g313)"/>
</g></g>
</g></g>
<g transform="matrix(0.478 -0.878 0.878 0.478 237 1419)"><g filter="url(#f32)">
<polygon points="0,0 319,477.6 363.6,773.2 44.7,295.6" fill="#387300"/>
<g clip-path="url(#c32)"><g transform="matrix(5.5 8.235 -1.595 -10.557 -138.5 266.4)">
<ellipse cx="52" cy="54" rx="20" ry="8" fill="url(#g320)"/>
<ellipse cx="70" cy="35" rx="30" ry="9" fill="url(#g321)"/>
<ellipse cx="93" cy="40" rx="10" ry="12" fill="url(#g322)"/>
<ellipse cx="46" cy="35" rx="6" ry="8" fill="url(#g323)"/>
</g></g>
</g></g>
<g transform="matrix(0.478 -0.878 0.878 0.478 237 1284)"><g filter="url(#f33)">
<polygon points="0,0 319,477.6 363.6,773.2 44.7,295.6" fill="#143300"/>
<g clip-path="url(#c33)"><g transform="matrix(5.5 8.235 -1.595 -10.557 -138.5 266.4)">
<ellipse cx="86" cy="39" rx="20" ry="13" fill="url(#g330)"/>
<ellipse cx="62" cy="46" rx="14" ry="10" fill="url(#g331)"/>
</g></g>
</g></g>
<g transform="matrix(0.478 -0.878 0.878 0.478 237 1150)"><g filter="url(#f34)">
<polygon points="0,0 319,477.6 363.6,773.2 44.7,295.6" fill="#122400"/>
<g clip-path="url(#c34)"><g transform="matrix(5.5 8.235 -1.595 -10.557 -138.5 266.4)">
<ellipse cx="88" cy="40" rx="16" ry="16" fill="url(#g340)"/>
</g></g>
</g></g>
<line x1="237" y1="1152" x2="237" y2="1869" stroke="#4c4c4c" stroke-width="3.4"/>
<line x1="219" y1="1680" x2="237" y2="1686.5" stroke="#333" stroke-width="2" stroke-dasharray="7 2.5 10 0"/>
<text x="205.5" y="1692" font-size="41" text-anchor="end">0-2km</text>
<line x1="219" y1="1545" x2="237" y2="1551.5" stroke="#333" stroke-width="2" stroke-dasharray="7 2.5 10 0"/>
<text x="205.5" y="1556" font-size="41" text-anchor="end">2-4km</text>
<line x1="219" y1="1412" x2="237" y2="1418.5" stroke="#333" stroke-width="2" stroke-dasharray="7 2.5 10 0"/>
<text x="205.5" y="1423" font-size="41" text-anchor="end">4-6km</text>
<line x1="219" y1="1277" x2="237" y2="1283.5" stroke="#333" stroke-width="2" stroke-dasharray="7 2.5 10 0"/>
<text x="205.5" y="1288" font-size="41" text-anchor="end">6-8km</text>
<line x1="219" y1="1147" x2="237" y2="1153.5" stroke="#333" stroke-width="2" stroke-dasharray="7 2.5 10 0"/>
<text x="205.5" y="1158" font-size="41" text-anchor="end">8-10km</text>
<text x="982" y="1130" font-size="52" text-anchor="start">SON</text>
<text transform="translate(54 1509) rotate(-90)" font-size="41" text-anchor="middle">Height/(KM)</text>
<line x1="317" y1="1900" x2="317" y2="1915" stroke="#bbb" stroke-width="2.6"/>
<line x1="418" y1="1933" x2="418" y2="1952" stroke="#555" stroke-width="2.6"/>
<line x1="519" y1="1970" x2="519" y2="1987" stroke="#555" stroke-width="2.6"/>
<line x1="598" y1="1963" x2="598" y2="1980" stroke="#ccc" stroke-width="2.6"/>
<line x1="696" y1="1955" x2="696" y2="1972" stroke="#bbb" stroke-width="2.6"/>
<line x1="794" y1="1947" x2="794" y2="1963" stroke="#666" stroke-width="2.6"/>
<line x1="893" y1="1938" x2="893" y2="1955" stroke="#666" stroke-width="2.6"/>
<line x1="992" y1="1928" x2="992" y2="1947" stroke="#666" stroke-width="2.6"/>
<line x1="1090" y1="1918" x2="1090" y2="1937" stroke="#555" stroke-width="2.6"/>
<text x="276" y="1968" font-size="41" text-anchor="start">50</text>
<text x="377" y="2005" font-size="41" text-anchor="start">40</text>
<text x="477" y="2042" font-size="41" text-anchor="start">30</text>
<text x="599" y="2033" font-size="41" text-anchor="start">50</text>
<text x="697" y="2025" font-size="41" text-anchor="start">60</text>
<text x="796" y="2017" font-size="41" text-anchor="start">70</text>
<text x="894" y="2007" font-size="41" text-anchor="start">80</text>
<text x="992" y="2000" font-size="41" text-anchor="start">90</text>
<text x="1094" y="1990" font-size="41" text-anchor="start">100</text>
<text x="209" y="2058" font-size="41" text-anchor="start">Lat(°N)</text>
<text x="791" y="2062" font-size="41" text-anchor="start">Lon(°E)</text>
<use href="#flr" transform="matrix(1.017 -0.074 0.943 0.339 1376 1868)"/>
<g transform="matrix(0.487 -0.874 0.874 0.487 1376 1683)"><g filter="url(#f40)">
<polygon points="0,0 324.6,494.5 354.3,680.1 318.4,621.8 305.8,589 290.5,557.4 259.8,494.3 239.8,470.6 219.5,452.5 189.4,416.9 194.1,445.7 197.9,462.8 202.5,475 228.3,531.5 251,588.4 44.5,275.1" fill="#78b800"/>
<g clip-path="url(#c40)"><g transform="matrix(5.597 8.527 -1.623 -9.888 -140.9 215.4)">
<ellipse cx="52" cy="46" rx="14" ry="16" fill="url(#g400)"/>
<ellipse cx="78" cy="40" rx="14" ry="10" fill="url(#g401)"/>
<ellipse cx="90" cy="53" rx="11" ry="6" fill="url(#g402)"/>
<ellipse cx="95" cy="42" rx="7" ry="4" fill="url(#g403)"/>
<ellipse cx="74" cy="31.5" rx="6" ry="2" fill="url(#g404)"/>
</g></g>
<polygon points="221.2,473.9 247.3,500.3 289.6,557.9 306.8,592.9 299.1,593.3 270.7,566.8 250.1,540 228,498.4" fill="#a8e600"/>
</g></g>
<polygon points="1904.8,1671.8 1936.1,1668.8 1994.9,1675.7 1985.6,1679.6 1935.5,1677.7" fill="#fff"/>
<g transform="matrix(0.487 -0.874 0.874 0.487 1376 1547)"><g filter="url(#f41)">
<polygon points="0,0 324.6,494.5 358.3,701.5 314.7,645.7 279.1,596.1 249.2,540.5 232.5,496.3 206.9,446.3 202.3,470.7 231.9,529.8 261,600.3 46.3,274.3" fill="#70a300"/>
<g clip-path="url(#c41)"><g transform="matrix(5.597 8.527 -1.623 -9.888 -140.9 215.4)">
<ellipse cx="90" cy="44" rx="10" ry="8" fill="url(#g410)"/>
<ellipse cx="74" cy="31.5" rx="7" ry="2.5" fill="url(#g411)"/>
</g></g>
</g></g>
<g transform="matrix(0.487 -0.874 0.874 0.487 1376 1411)"><g filter="url(#f42)">
<polygon points="0,0 324.6,494.5 370.1,771.4 45.4,276.9" fill="#388000"/>
<g clip-path="url(#c42)"><g transform="matrix(5.597 8.527 -1.623 -9.888 -140.9 215.4)">
<ellipse cx="55" cy="34" rx="16" ry="7" fill="url(#g420)"/>
<ellipse cx="95" cy="35" rx="8" ry="8" fill="url(#g421)"/>
<ellipse cx="75" cy="38" rx="14" ry="8" fill="url(#g422)"/>
</g></g>
</g></g>
<g transform="matrix(0.487 -0.874 0.874 0.487 1376 1275)"><g filter="url(#f43)">
<polygon points="0,0 324.6,494.5 370.1,771.4 45.4,276.9" fill="#143800"/>
<g clip-path="url(#c43)"><g transform="matrix(5.597 8.527 -1.623 -9.888 -140.9 215.4)">
<ellipse cx="87" cy="37" rx="18" ry="11" fill="url(#g430)"/>
<ellipse cx="58" cy="42" rx="14" ry="10" fill="url(#g431)"/>
</g></g>
</g></g>
<g transform="matrix(0.487 -0.874 0.874 0.487 1376 1139)"><g filter="url(#f44)">
<polygon points="0,0 324.6,494.5 370.1,771.4 45.4,276.9" fill="#122100"/>
<g clip-path="url(#c44)"><g transform="matrix(5.597 8.527 -1.623 -9.888 -140.9 215.4)">
<ellipse cx="92" cy="38" rx="11" ry="11" fill="url(#g440)"/>
</g></g>
</g></g>
<line x1="1376" y1="1137" x2="1376" y2="1869" stroke="#5c5c5c" stroke-width="3.6"/>
<line x1="1358" y1="1675" x2="1376" y2="1681.5" stroke="#333" stroke-width="2" stroke-dasharray="7 2.5 10 0"/>
<text x="1343.5" y="1687" font-size="41" text-anchor="end">0-2km</text>
<line x1="1358" y1="1540" x2="1376" y2="1546.5" stroke="#333" stroke-width="2" stroke-dasharray="7 2.5 10 0"/>
<text x="1343.5" y="1553" font-size="41" text-anchor="end">2-4km</text>
<line x1="1358" y1="1403" x2="1376" y2="1409.5" stroke="#333" stroke-width="2" stroke-dasharray="7 2.5 10 0"/>
<text x="1343.5" y="1415" font-size="41" text-anchor="end">4-6km</text>
<line x1="1358" y1="1267" x2="1376" y2="1273.5" stroke="#333" stroke-width="2" stroke-dasharray="7 2.5 10 0"/>
<text x="1343.5" y="1277" font-size="41" text-anchor="end">6-8km</text>
<line x1="1358" y1="1132" x2="1376" y2="1138.5" stroke="#333" stroke-width="2" stroke-dasharray="7 2.5 10 0"/>
<text x="1343.5" y="1145" font-size="41" text-anchor="end">8-10km</text>
<text x="2096" y="1130" font-size="52" text-anchor="start">DJF</text>
<text transform="translate(1193 1502) rotate(-90)" font-size="41" text-anchor="middle">Height/(KM)</text>
<line x1="1450" y1="1895" x2="1450" y2="1912" stroke="#555" stroke-width="2.6"/>
<line x1="1544" y1="1930" x2="1544" y2="1947" stroke="#bbb" stroke-width="2.6"/>
<line x1="1640" y1="1963" x2="1640" y2="1982" stroke="#555" stroke-width="2.6"/>
<line x1="1721" y1="1958" x2="1721" y2="1977" stroke="#555" stroke-width="2.6"/>
<line x1="1822" y1="1952" x2="1822" y2="1968" stroke="#bbb" stroke-width="2.6"/>
<line x1="1924" y1="1945" x2="1924" y2="1961" stroke="#bbb" stroke-width="2.6"/>
<line x1="2027" y1="1937" x2="2027" y2="1953" stroke="#bbb" stroke-width="2.6"/>
<line x1="2128" y1="1928" x2="2128" y2="1947" stroke="#666" stroke-width="2.6"/>
<line x1="2230" y1="1920" x2="2230" y2="1938" stroke="#555" stroke-width="2.6"/>
<text x="1411" y="1967" font-size="41" text-anchor="start">50</text>
<text x="1504" y="2002" font-size="41" text-anchor="start">40</text>
<text x="1599" y="2035" font-size="41" text-anchor="start">30</text>
<text x="1721" y="2030" font-size="41" text-anchor="start">50</text>
<text x="1822" y="2022" font-size="41" text-anchor="start">60</text>
<text x="1926" y="2013" font-size="41" text-anchor="start">70</text>
<text x="2026" y="2007" font-size="41" text-anchor="start">80</text>
<text x="2127" y="2000" font-size="41" text-anchor="start">90</text>
<text x="2232" y="1992" font-size="41" text-anchor="start">100</text>
<text x="1332" y="2045" font-size="41" text-anchor="start">Lat(°N)</text>
<text x="1916" y="2057" font-size="41" text-anchor="start">Lon(°E)</text>
<rect x="2339" y="1322" width="67" height="58.6" fill="#0000ff"/>
<rect x="2339" y="1264" width="67" height="58.6" fill="#00bfff"/>
<rect x="2339" y="1206" width="67" height="58.6" fill="#00ffff"/>
<rect x="2339" y="1148" width="67" height="58.6" fill="#00b06e"/>
<rect x="2339" y="1090" width="67" height="58.6" fill="#008b0a"/>
<rect x="2339" y="1032" width="67" height="58.6" fill="#7fcd0c"/>
<rect x="2339" y="974" width="67" height="58.6" fill="#00ee00"/>
<rect x="2339" y="916" width="67" height="58.6" fill="#ffff00"/>
<rect x="2339" y="858" width="67" height="58.6" fill="#ffd700"/>
<rect x="2339" y="800" width="67" height="58.6" fill="#ffa500"/>
<rect x="2339" y="742" width="67" height="58.6" fill="#ff6347"/>
<rect x="2339" y="684" width="67" height="58.6" fill="#ff0000"/>
<rect x="2339" y="626" width="67" height="58.6" fill="#edb98a"/>
<rect x="2339" y="568" width="67" height="58.6" fill="#e1883c"/>
<rect x="2339" y="510" width="67" height="58.6" fill="#b4522a"/>
<rect x="2339" y="510" width="67" height="870" fill="none" stroke="#3a2a1a" stroke-width="1.6"/>
<text x="2421" y="1395" font-size="41" text-anchor="start">0</text>
<text x="2421" y="1250" font-size="41" text-anchor="start">0.1</text>
<line x1="2398" y1="1235" x2="2406" y2="1235" stroke="#333" stroke-width="1.5"/>
<text x="2421" y="1105" font-size="41" text-anchor="start">0.2</text>
<line x1="2398" y1="1090" x2="2406" y2="1090" stroke="#333" stroke-width="1.5"/>
<text x="2421" y="960" font-size="41" text-anchor="start">0.3</text>
<line x1="2398" y1="945" x2="2406" y2="945" stroke="#333" stroke-width="1.5"/>
<text x="2421" y="815" font-size="41" text-anchor="start">0.4</text>
<line x1="2398" y1="800" x2="2406" y2="800" stroke="#333" stroke-width="1.5"/>
<text x="2421" y="670" font-size="41" text-anchor="start">0.5</text>
<line x1="2398" y1="655" x2="2406" y2="655" stroke="#333" stroke-width="1.5"/>
<text x="2421" y="525" font-size="41" text-anchor="start">0.6</text>
</svg>
</body></html>
